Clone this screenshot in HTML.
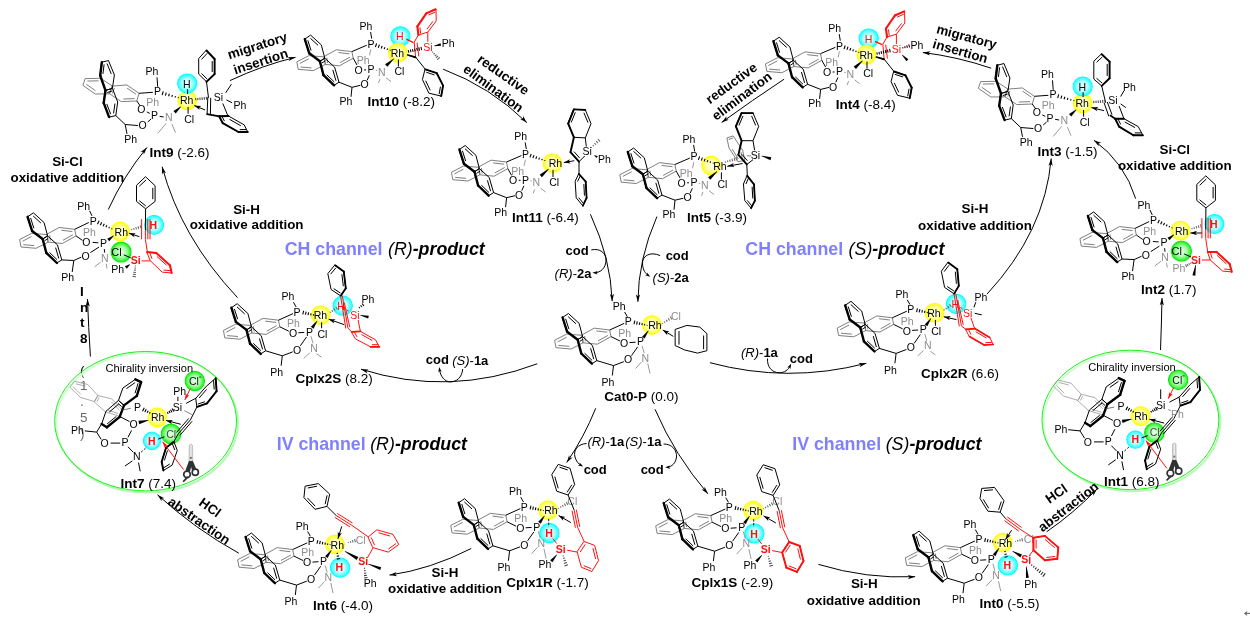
<!DOCTYPE html>
<html><head><meta charset="utf-8"><style>
html,body{margin:0;padding:0;background:#fff;}
svg{display:block;font-family:"Liberation Sans",sans-serif;will-change:transform;}
</style></head><body>
<svg width="1250" height="631" viewBox="0 0 1250 631" fill="none">
<defs>
<radialGradient id="gY" cx="0.5" cy="0.5" r="0.5"><stop offset="0" stop-color="#fffff4"/><stop offset="0.5" stop-color="#ffffb0"/><stop offset="0.82" stop-color="#ffff40"/><stop offset="0.94" stop-color="#ffff08"/><stop offset="1" stop-color="#fafa00" stop-opacity="0.5"/></radialGradient>
<radialGradient id="gC" cx="0.5" cy="0.5" r="0.5"><stop offset="0" stop-color="#f6ffff"/><stop offset="0.5" stop-color="#b0ffff"/><stop offset="0.82" stop-color="#40ffff"/><stop offset="0.94" stop-color="#08ffff"/><stop offset="1" stop-color="#00f6f6" stop-opacity="0.5"/></radialGradient>
<radialGradient id="gG" cx="0.5" cy="0.5" r="0.5"><stop offset="0" stop-color="#f0fff0"/><stop offset="0.5" stop-color="#a8ffa8"/><stop offset="0.82" stop-color="#40f440"/><stop offset="0.94" stop-color="#08e808"/><stop offset="1" stop-color="#00de00" stop-opacity="0.5"/></radialGradient>
</defs>
<text x="80" y="437.51" font-size="13.5" font-weight="normal" fill="#000">)</text>
<text x="80" y="421.76" font-size="13.5" font-weight="normal" fill="#000">5</text>
<text x="80" y="406.01" font-size="13.5" font-weight="normal" fill="#000">.</text>
<text x="80" y="390.26" font-size="13.5" font-weight="normal" fill="#000">1</text>
<text x="80" y="374.51" font-size="13.5" font-weight="normal" fill="#000">(</text>
<text x="80" y="358.76" font-size="13.5" font-weight="normal" fill="#000"> </text>
<text x="80" y="343.01" font-size="13.5" font-weight="bold" fill="#000">8</text>
<text x="80" y="327.26" font-size="13.5" font-weight="bold" fill="#000">t</text>
<text x="80" y="311.51" font-size="13.5" font-weight="bold" fill="#000">n</text>
<text x="80" y="295.76" font-size="13.5" font-weight="bold" fill="#000">I</text>
<ellipse cx="147.1" cy="422.8" rx="90.9" ry="69.7" stroke="#b8f6b8" stroke-width="2.0" fill="none"/>
<ellipse cx="145.6" cy="421.2" rx="90.9" ry="69.7" stroke="#18f018" stroke-width="1.0" fill="#fff" fill-opacity="0.4"/>
<ellipse cx="1131.9" cy="421.5" rx="88.4" ry="69.7" stroke="#b8f6b8" stroke-width="2.0" fill="none"/>
<ellipse cx="1130.4" cy="419.9" rx="88.4" ry="69.7" stroke="#18f018" stroke-width="1.0" fill="#fff" fill-opacity="0.4"/>
<circle cx="652" cy="325" r="10.049999999999999" fill="url(#gY)"/>
<path d="M554.7 340.6L556 347.7L571.1 349L583.1 342.8L582 335.3L567.1 334.1Z" stroke="#686868" stroke-width="0.85" fill="none" stroke-linejoin="round" stroke-linecap="round"/>
<path d="M558.33 345.39L569.2 346.33" stroke="#686868" stroke-width="0.85"/>
<path d="M566.52 337.22L557.6 341.9" stroke="#686868" stroke-width="0.85"/>
<path d="M582 335.3L583.1 342.8L597.3 344.2L611 336.6L609.7 330L594.6 328.2Z" stroke="#686868" stroke-width="0.85" fill="none" stroke-linejoin="round" stroke-linecap="round"/>
<path d="M584.63 335.99L585.42 341.39" stroke="#686868" stroke-width="0.85"/>
<path d="M598.01 340.95L607.87 335.48" stroke="#686868" stroke-width="0.85"/>
<path d="M607.29 332.23L596.42 330.93" stroke="#686868" stroke-width="0.85"/>
<path d="M562.6 317.5L568.4 313.5L579.1 323.3L582.6 336.6L577.7 339.7L567.1 331.7Z" stroke="#000" stroke-width="1.0" fill="none" stroke-linejoin="round" stroke-linecap="round"/>
<path d="M568.21 316.72L575.91 323.77" stroke="#000" stroke-width="1.0"/>
<path d="M568.85 328.96L565.61 318.73" stroke="#000" stroke-width="1.0"/>
<path d="M577.7 339.7L567.1 331.7" stroke="#000" stroke-width="2.4" fill="none" stroke-linejoin="round" stroke-linecap="round"/>
<path d="M567.1 331.7L562.6 317.5" stroke="#000" stroke-width="2.4" fill="none" stroke-linejoin="round" stroke-linecap="round"/>
<path d="M577.7 339.7L582.6 336.6L592.4 345.5L596.8 360.6L591.9 363.7L581.3 353.5Z" stroke="#000" stroke-width="1.0" fill="none" stroke-linejoin="round" stroke-linecap="round"/>
<path d="M579.72 341.38L583.25 339.15" stroke="#000" stroke-width="1.0"/>
<path d="M590.62 348.31L593.78 359.19" stroke="#000" stroke-width="1.0"/>
<path d="M592.15 360.47L584.52 353.13" stroke="#000" stroke-width="1.0"/>
<path d="M591.9 363.7L581.3 353.5" stroke="#000" stroke-width="2.4" fill="none" stroke-linejoin="round" stroke-linecap="round"/>
<path d="M581.3 353.5L577.7 339.7" stroke="#000" stroke-width="2.4" fill="none" stroke-linejoin="round" stroke-linecap="round"/>
<path d="M609.7 330L624.2 323.4" stroke="#000" stroke-width="1.0"/>
<text x="628.2" y="325.48" font-size="10.5" fill="#000" text-anchor="middle" >P</text>
<text x="619.2" y="310.28" font-size="10.5" fill="#000" text-anchor="middle" >Ph</text>
<path d="M624.6 312L627.4 316.8" stroke="#000" stroke-width="1.0"/>
<path d="M647.3 324.86L647.1 325.74" stroke="#000" stroke-width="1.1"/>
<path d="M644.8 324.0L644.48 325.44" stroke="#000" stroke-width="1.1"/>
<path d="M642.31 323.14L641.85 325.14" stroke="#000" stroke-width="1.1"/>
<path d="M639.81 322.27L639.23 324.85" stroke="#000" stroke-width="1.1"/>
<path d="M637.32 321.41L636.6 324.55" stroke="#000" stroke-width="1.1"/>
<path d="M634.82 320.55L633.98 324.25" stroke="#000" stroke-width="1.1"/>
<text x="624.6" y="336.88" font-size="10.5" fill="#8c8c8c" text-anchor="middle" >Ph</text>
<path d="M611 336.6L620 341" stroke="#000" stroke-width="1.0"/>
<text x="624.2" y="346.88" font-size="10.5" fill="#000" text-anchor="middle" >O</text>
<path d="M629.5 342.6L635.5 342.2" stroke="#000" stroke-width="1.0"/>
<text x="640.6" y="345.48" font-size="10.5" fill="#000" text-anchor="middle" >P</text>
<path d="M648.2 330.45L642.1 336.67L644.7 338.53L648.6 330.75Z" fill="#000" stroke="none"/>
<text x="628.2" y="363.48" font-size="10.5" fill="#000" text-anchor="middle" >O</text>
<path d="M631.5 355.6L637.7 346.8" stroke="#000" stroke-width="1.0"/>
<path d="M642.2 346L644.2 353.2" stroke="#9a9a9a" stroke-width="1.0"/>
<text x="645.3" y="361.58" font-size="10.5" fill="#8c8c8c" text-anchor="middle" >N</text>
<path d="M641.5 362L635.5 368.5" stroke="#9a9a9a" stroke-width="1.0"/>
<path d="M647.8 363.5L650.0 373.5" stroke="#9a9a9a" stroke-width="1.0"/>
<path d="M596.8 360.6L613.5 365.6L623.5 361.8" stroke="#000" stroke-width="1.0" fill="none" stroke-linejoin="round" stroke-linecap="round"/>
<path d="M613.5 365.6L612.3 375.5" stroke="#000" stroke-width="1.0"/>
<text x="607.8" y="385.78" font-size="10.5" fill="#000" text-anchor="middle" >Ph</text>
<text x="655.0" y="329.18" font-size="10.5" fill="#000" text-anchor="middle" >Rh</text>
<path d="M662.72 323.84L662.28 323.16" stroke="#686868" stroke-width="1.05"/>
<path d="M665.02 322.73L664.23 321.52" stroke="#686868" stroke-width="1.05"/>
<path d="M667.32 321.63L666.18 319.87" stroke="#686868" stroke-width="1.05"/>
<path d="M669.62 320.53L668.13 318.22" stroke="#686868" stroke-width="1.05"/>
<path d="M671.92 319.43L670.08 316.57" stroke="#686868" stroke-width="1.05"/>
<text x="676" y="320.18" font-size="10.5" fill="#8c8c8c" text-anchor="middle" >Cl</text>
<path d="M675.5 329.3L686.9 325.4L699.8 327.1L706.9 333.6L706.9 350.7L697.6 353.1L684.8 350L675.5 345.7Z" stroke="#000" stroke-width="1.0" fill="none" stroke-linejoin="round" stroke-linecap="round"/>
<path d="M679.0 331.0L679.0 344.6" stroke="#000" stroke-width="1.0"/>
<path d="M703.6 335.5L703.6 349.2" stroke="#000" stroke-width="1.0"/>
<path d="M673.4 336.4L662.7 330.0" stroke="#000" stroke-width="1.0"/>
<path d="M662.70 330.00L669.47 331.54L666.95 332.54L667.26 335.23Z" fill="#000"/>
<circle cx="187.2" cy="100.3" r="10.049999999999999" fill="url(#gY)"/>
<path d="M83.0 84.95L85.2 78.6L100.7 78.3L112.4 86.1L109.6 93.8L95.75 94.0Z" stroke="#686868" stroke-width="0.85" fill="none" stroke-linejoin="round" stroke-linecap="round"/>
<path d="M87.42 81.06L98.58 80.84" stroke="#686868" stroke-width="0.85"/>
<path d="M95.41 90.69L86.23 84.18" stroke="#686868" stroke-width="0.85"/>
<path d="M112.4 86.1L126.8 84.95L139.0 93.3L136.8 101.0L121.3 101.6L109.6 93.8Z" stroke="#686868" stroke-width="0.85" fill="none" stroke-linejoin="round" stroke-linecap="round"/>
<path d="M127.1 88.18L135.88 94.19" stroke="#686868" stroke-width="0.85"/>
<path d="M134.53 98.59L123.37 99.02" stroke="#686868" stroke-width="0.85"/>
<path d="M112.34 93.58L114.36 88.03" stroke="#686868" stroke-width="0.85"/>
<path d="M101.85 62.2L108.5 60.55L114.4 75.0L112.4 88.3L105.5 90.5L100.2 75.5Z" stroke="#000" stroke-width="1.0" fill="none" stroke-linejoin="round" stroke-linecap="round"/>
<path d="M107.01 63.52L111.26 73.92" stroke="#000" stroke-width="1.0"/>
<path d="M102.91 73.95L104.1 64.37" stroke="#000" stroke-width="1.0"/>
<path d="M105.5 90.5L100.2 75.5" stroke="#000" stroke-width="2.4" fill="none" stroke-linejoin="round" stroke-linecap="round"/>
<path d="M100.2 75.5L101.85 62.2" stroke="#000" stroke-width="2.4" fill="none" stroke-linejoin="round" stroke-linecap="round"/>
<path d="M105.5 90.5L112.4 88.3L117.7 102.0L115.8 115.6L109.1 117.1L103.7 102.9Z" stroke="#000" stroke-width="1.0" fill="none" stroke-linejoin="round" stroke-linecap="round"/>
<path d="M107.23 92.57L112.19 90.99" stroke="#000" stroke-width="1.0"/>
<path d="M114.96 103.56L113.59 113.35" stroke="#000" stroke-width="1.0"/>
<path d="M110.68 114.22L106.79 104.0" stroke="#000" stroke-width="1.0"/>
<path d="M109.1 117.1L103.7 102.9" stroke="#000" stroke-width="2.4" fill="none" stroke-linejoin="round" stroke-linecap="round"/>
<path d="M103.7 102.9L105.5 90.5" stroke="#000" stroke-width="2.4" fill="none" stroke-linejoin="round" stroke-linecap="round"/>
<path d="M139.0 93.3L152.9 92.3" stroke="#000" stroke-width="1.0"/>
<text x="157.4" y="95.48" font-size="10.5" fill="#000" text-anchor="middle" >P</text>
<text x="152.0" y="75.38" font-size="10.5" fill="#000" text-anchor="middle" >Ph</text>
<path d="M157.0 77.3L157.7 86.8" stroke="#000" stroke-width="1.0"/>
<path d="M178.52 97.27L178.28 98.13" stroke="#000" stroke-width="1.1"/>
<path d="M175.46 96.09L175.06 97.51" stroke="#000" stroke-width="1.1"/>
<path d="M172.4 94.91L171.84 96.89" stroke="#000" stroke-width="1.1"/>
<path d="M169.34 93.73L168.62 96.27" stroke="#000" stroke-width="1.1"/>
<path d="M166.28 92.55L165.4 95.65" stroke="#000" stroke-width="1.1"/>
<path d="M163.22 91.37L162.18 95.03" stroke="#000" stroke-width="1.1"/>
<text x="152.7" y="106.48" font-size="10.5" fill="#8c8c8c" text-anchor="middle" >Ph</text>
<path d="M136.8 101.0L140.2 105.9" stroke="#000" stroke-width="1.0"/>
<text x="141.3" y="113.18" font-size="10.5" fill="#000" text-anchor="middle" >O</text>
<path d="M146.8 111.9L149.8 113.4" stroke="#000" stroke-width="1.0"/>
<text x="154.5" y="118.88" font-size="10.5" fill="#000" text-anchor="middle" >P</text>
<path d="M159.6 116.3L163.7 117.0" stroke="#000" stroke-width="1.0"/>
<text x="168.8" y="121.18" font-size="10.5" fill="#8c8c8c" text-anchor="middle" >N</text>
<path d="M166.2 123.4L157.7 133.4" stroke="#9a9a9a" stroke-width="1.0"/>
<path d="M171.9 124.1L175.5 132.7" stroke="#9a9a9a" stroke-width="1.0"/>
<path d="M180.53 106.61L173.47 110.93L175.73 113.47L180.87 106.99Z" fill="#000" stroke="none"/>
<path d="M188.1 107.0L188.1 113.7" stroke="#000" stroke-width="1.0"/>
<text x="189.1" y="122.58" font-size="10.5" fill="#000" text-anchor="middle" >Cl</text>
<text x="142.7" y="129.28" font-size="10.5" fill="#000" text-anchor="middle" >O</text>
<path d="M147.7 122.0L151.1 119.0" stroke="#000" stroke-width="1.0"/>
<path d="M115.8 115.6L125.2 124.5L137.5 125.5" stroke="#000" stroke-width="1.0" fill="none" stroke-linejoin="round" stroke-linecap="round"/>
<path d="M125.2 124.5L127.0 133.9" stroke="#000" stroke-width="1.0"/>
<text x="130.6" y="142.88" font-size="10.5" fill="#000" text-anchor="middle" >Ph</text>
<circle cx="187.2" cy="83.5" r="10.25" fill="url(#gC)"/>
<text x="186.9" y="87.58" font-size="10.5" fill="#000" text-anchor="middle" >H</text>
<path d="M187.6 89.2L187.6 94.0" stroke="#000" stroke-width="1.0"/>
<text x="186.6" y="104.38" font-size="10.5" fill="#000" text-anchor="middle" >Rh</text>
<path d="M206.5 50.5L214.6 59.0L214.6 74.1L206.5 81.8L198.7 74.1L198.7 59.0Z" stroke="#000" stroke-width="1.0" fill="none" stroke-linejoin="round" stroke-linecap="round"/>
<path d="M212.2 61.11L212.2 71.99" stroke="#000" stroke-width="1.0"/>
<path d="M207.09 79.01L201.48 73.47" stroke="#000" stroke-width="1.0"/>
<path d="M201.56 59.43L207.18 53.31" stroke="#000" stroke-width="1.0"/>
<path d="M206.5 50.5L214.6 59.0" stroke="#000" stroke-width="1.9" fill="none" stroke-linejoin="round" stroke-linecap="round"/>
<path d="M214.6 59.0L214.6 74.1" stroke="#000" stroke-width="1.9" fill="none" stroke-linejoin="round" stroke-linecap="round"/>
<path d="M214.6 74.1L206.5 81.8" stroke="#000" stroke-width="1.9" fill="none" stroke-linejoin="round" stroke-linecap="round"/>
<path d="M206.5 81.8L208.5 97.8" stroke="#000" stroke-width="1.0"/>
<path d="M207.8 97.1L207.1 114.2" stroke="#000" stroke-width="1.0"/>
<path d="M210.7 97.8L210.4 114.2" stroke="#000" stroke-width="1.0"/>
<path d="M207.1 114.2L219.2 116.3" stroke="#000" stroke-width="1.7" fill="none" stroke-linejoin="round" stroke-linecap="round"/>
<path d="M195.8 100.3L195.6 98.1" stroke="#444" stroke-width="1.05"/>
<path d="M197.95 100.17L197.73 97.83" stroke="#444" stroke-width="1.05"/>
<path d="M200.1 100.05L199.86 97.55" stroke="#444" stroke-width="1.05"/>
<path d="M202.24 99.93L202.0 97.27" stroke="#444" stroke-width="1.05"/>
<path d="M204.39 99.81L204.13 96.99" stroke="#444" stroke-width="1.05"/>
<path d="M206.54 99.69L206.26 96.71" stroke="#444" stroke-width="1.05"/>
<path d="M205.0 109.9L194.3 105.6" stroke="#000" stroke-width="1.0"/>
<path d="M194.30 105.60L201.23 106.07L198.89 107.45L199.62 110.06Z" fill="#000"/>
<text x="218.5" y="101.28" font-size="10.5" fill="#000" text-anchor="middle" >Si</text>
<path d="M225.7 92.8L231.4 84.2" stroke="#000" stroke-width="1.0"/>
<path d="M226.4 99.9L232.1 102.8" stroke="#000" stroke-width="1.0"/>
<text x="239.9" y="109.38" font-size="10.5" fill="#000" text-anchor="middle" >Ph</text>
<path d="M222.8 103.5L227.8 115.6" stroke="#000" stroke-width="1.0"/>
<path d="M219.2 116.3L228.5 116.0L244.2 124.9L247.8 132.0L238.5 132.0L222.8 123.2Z" stroke="#000" stroke-width="1.0" fill="none" stroke-linejoin="round" stroke-linecap="round"/>
<path d="M229.51 119.33L240.82 125.74" stroke="#000" stroke-width="1.0"/>
<path d="M246.5 129.6L239.8 129.6" stroke="#000" stroke-width="1.0"/>
<path d="M224.42 121.12L221.83 116.16" stroke="#000" stroke-width="1.0"/>
<path d="M247.8 132.0L238.5 132.0" stroke="#000" stroke-width="1.9" fill="none" stroke-linejoin="round" stroke-linecap="round"/>
<path d="M238.5 132.0L222.8 123.2" stroke="#000" stroke-width="1.9" fill="none" stroke-linejoin="round" stroke-linecap="round"/>
<path d="M222.8 123.2L219.2 116.3" stroke="#000" stroke-width="1.9" fill="none" stroke-linejoin="round" stroke-linecap="round"/>
<path d="M219.2 116.3L228.5 116.0" stroke="#000" stroke-width="1.9" fill="none" stroke-linejoin="round" stroke-linecap="round"/>
<circle cx="1082.7" cy="103.3" r="10.049999999999999" fill="url(#gY)"/>
<path d="M978.5 87.95L980.7 81.6L996.2 81.3L1007.9 89.1L1005.1 96.8L991.25 97.0Z" stroke="#686868" stroke-width="0.85" fill="none" stroke-linejoin="round" stroke-linecap="round"/>
<path d="M982.92 84.06L994.08 83.84" stroke="#686868" stroke-width="0.85"/>
<path d="M990.91 93.69L981.73 87.18" stroke="#686868" stroke-width="0.85"/>
<path d="M1007.9 89.1L1022.3 87.95L1034.5 96.3L1032.3 104.0L1016.8 104.6L1005.1 96.8Z" stroke="#686868" stroke-width="0.85" fill="none" stroke-linejoin="round" stroke-linecap="round"/>
<path d="M1022.6 91.18L1031.38 97.19" stroke="#686868" stroke-width="0.85"/>
<path d="M1030.03 101.59L1018.87 102.02" stroke="#686868" stroke-width="0.85"/>
<path d="M1007.84 96.58L1009.86 91.03" stroke="#686868" stroke-width="0.85"/>
<path d="M997.35 65.2L1004.0 63.55L1009.9 78.0L1007.9 91.3L1001.0 93.5L995.7 78.5Z" stroke="#000" stroke-width="1.0" fill="none" stroke-linejoin="round" stroke-linecap="round"/>
<path d="M1002.51 66.52L1006.76 76.92" stroke="#000" stroke-width="1.0"/>
<path d="M998.41 76.95L999.6 67.37" stroke="#000" stroke-width="1.0"/>
<path d="M1001.0 93.5L995.7 78.5" stroke="#000" stroke-width="2.4" fill="none" stroke-linejoin="round" stroke-linecap="round"/>
<path d="M995.7 78.5L997.35 65.2" stroke="#000" stroke-width="2.4" fill="none" stroke-linejoin="round" stroke-linecap="round"/>
<path d="M1001.0 93.5L1007.9 91.3L1013.2 105.0L1011.3 118.6L1004.6 120.1L999.2 105.9Z" stroke="#000" stroke-width="1.0" fill="none" stroke-linejoin="round" stroke-linecap="round"/>
<path d="M1002.73 95.57L1007.69 93.99" stroke="#000" stroke-width="1.0"/>
<path d="M1010.46 106.56L1009.09 116.35" stroke="#000" stroke-width="1.0"/>
<path d="M1006.18 117.22L1002.29 107.0" stroke="#000" stroke-width="1.0"/>
<path d="M1004.6 120.1L999.2 105.9" stroke="#000" stroke-width="2.4" fill="none" stroke-linejoin="round" stroke-linecap="round"/>
<path d="M999.2 105.9L1001.0 93.5" stroke="#000" stroke-width="2.4" fill="none" stroke-linejoin="round" stroke-linecap="round"/>
<path d="M1034.5 96.3L1048.4 95.3" stroke="#000" stroke-width="1.0"/>
<text x="1052.9" y="98.48" font-size="10.5" fill="#000" text-anchor="middle" >P</text>
<text x="1047.5" y="78.38" font-size="10.5" fill="#000" text-anchor="middle" >Ph</text>
<path d="M1052.5 80.3L1053.2 89.8" stroke="#000" stroke-width="1.0"/>
<path d="M1074.02 100.27L1073.78 101.13" stroke="#000" stroke-width="1.1"/>
<path d="M1070.96 99.09L1070.56 100.51" stroke="#000" stroke-width="1.1"/>
<path d="M1067.9 97.91L1067.34 99.89" stroke="#000" stroke-width="1.1"/>
<path d="M1064.84 96.73L1064.12 99.27" stroke="#000" stroke-width="1.1"/>
<path d="M1061.78 95.55L1060.9 98.65" stroke="#000" stroke-width="1.1"/>
<path d="M1058.72 94.37L1057.68 98.03" stroke="#000" stroke-width="1.1"/>
<text x="1048.2" y="109.48" font-size="10.5" fill="#8c8c8c" text-anchor="middle" >Ph</text>
<path d="M1032.3 104.0L1035.7 108.9" stroke="#000" stroke-width="1.0"/>
<text x="1036.8" y="116.18" font-size="10.5" fill="#000" text-anchor="middle" >O</text>
<path d="M1042.3 114.9L1045.3 116.4" stroke="#000" stroke-width="1.0"/>
<text x="1050.0" y="121.88" font-size="10.5" fill="#000" text-anchor="middle" >P</text>
<path d="M1055.1 119.3L1059.2 120.0" stroke="#000" stroke-width="1.0"/>
<text x="1064.3" y="124.18" font-size="10.5" fill="#8c8c8c" text-anchor="middle" >N</text>
<path d="M1061.7 126.4L1053.2 136.4" stroke="#9a9a9a" stroke-width="1.0"/>
<path d="M1067.4 127.1L1071.0 135.7" stroke="#9a9a9a" stroke-width="1.0"/>
<path d="M1076.03 109.61L1068.97 113.93L1071.23 116.47L1076.37 109.99Z" fill="#000" stroke="none"/>
<path d="M1083.6 110.0L1083.6 116.7" stroke="#000" stroke-width="1.0"/>
<text x="1084.6" y="125.58" font-size="10.5" fill="#000" text-anchor="middle" >Cl</text>
<text x="1038.2" y="132.28" font-size="10.5" fill="#000" text-anchor="middle" >O</text>
<path d="M1043.2 125.0L1046.6 122.0" stroke="#000" stroke-width="1.0"/>
<path d="M1011.3 118.6L1020.7 127.5L1033.0 128.5" stroke="#000" stroke-width="1.0" fill="none" stroke-linejoin="round" stroke-linecap="round"/>
<path d="M1020.7 127.5L1022.5 136.9" stroke="#000" stroke-width="1.0"/>
<text x="1026.1" y="145.88" font-size="10.5" fill="#000" text-anchor="middle" >Ph</text>
<circle cx="1082.7" cy="86.5" r="10.25" fill="url(#gC)"/>
<text x="1082.4" y="90.58" font-size="10.5" fill="#000" text-anchor="middle" >H</text>
<path d="M1083.1 92.2L1083.1 97.0" stroke="#000" stroke-width="1.0"/>
<text x="1082.1" y="107.38" font-size="10.5" fill="#000" text-anchor="middle" >Rh</text>
<path d="M1101.7 54.2L1109.6 61.6L1109.6 78.3L1101.7 85.9L1093.8 79.1L1093.8 61.6Z" stroke="#000" stroke-width="1.0" fill="none" stroke-linejoin="round" stroke-linecap="round"/>
<path d="M1107.2 63.94L1107.2 75.96" stroke="#000" stroke-width="1.0"/>
<path d="M1102.16 83.13L1096.47 78.23" stroke="#000" stroke-width="1.0"/>
<path d="M1096.55 62.32L1102.23 56.99" stroke="#000" stroke-width="1.0"/>
<path d="M1101.7 54.2L1109.6 61.6" stroke="#000" stroke-width="1.9" fill="none" stroke-linejoin="round" stroke-linecap="round"/>
<path d="M1109.6 61.6L1109.6 78.3" stroke="#000" stroke-width="1.9" fill="none" stroke-linejoin="round" stroke-linecap="round"/>
<path d="M1109.6 78.3L1101.7 85.9" stroke="#000" stroke-width="1.9" fill="none" stroke-linejoin="round" stroke-linecap="round"/>
<path d="M1101.7 85.9L1105.7 102.8" stroke="#000" stroke-width="1.0"/>
<path d="M1104.1 102.8L1108.8 116.3" stroke="#000" stroke-width="1.0"/>
<path d="M1107.3 102.0L1112.0 114.7" stroke="#000" stroke-width="1.0"/>
<path d="M1110.4 115.5L1115.2 118.7" stroke="#000" stroke-width="1.7" fill="none" stroke-linejoin="round" stroke-linecap="round"/>
<path d="M1093.88 103.1L1093.72 100.9" stroke="#444" stroke-width="1.05"/>
<path d="M1096.1 103.02L1095.94 100.66" stroke="#444" stroke-width="1.05"/>
<path d="M1098.33 102.94L1098.15 100.42" stroke="#444" stroke-width="1.05"/>
<path d="M1100.56 102.86L1100.36 100.18" stroke="#444" stroke-width="1.05"/>
<path d="M1102.78 102.78L1102.58 99.94" stroke="#444" stroke-width="1.05"/>
<path d="M1105.01 102.7L1104.79 99.7" stroke="#444" stroke-width="1.05"/>
<path d="M1104.1 110.7L1091.4 107.6" stroke="#000" stroke-width="1.0"/>
<path d="M1091.40 107.60L1098.32 107.08L1096.21 108.77L1097.30 111.25Z" fill="#000"/>
<text x="1112.8" y="104.18" font-size="10.5" fill="#000" text-anchor="middle" >Si</text>
<path d="M1120.7 96.5L1123.9 90.9" stroke="#000" stroke-width="1.0"/>
<text x="1129.4" y="90.78" font-size="10.5" fill="#000" text-anchor="middle" >Ph</text>
<path d="M1120.7 103.9L1125.8 107.6" stroke="#000" stroke-width="1.0"/>
<path d="M1119.1 106.0L1123.9 118.7" stroke="#000" stroke-width="1.0"/>
<path d="M1115.2 118.7L1123.9 118.7L1138.2 126.6L1142.9 135.3L1133.4 135.3L1119.1 126.6Z" stroke="#000" stroke-width="1.0" fill="none" stroke-linejoin="round" stroke-linecap="round"/>
<path d="M1124.74 121.91L1135.04 127.59" stroke="#000" stroke-width="1.0"/>
<path d="M1141.57 132.9L1134.73 132.9" stroke="#000" stroke-width="1.0"/>
<path d="M1120.71 124.43L1117.9 118.74" stroke="#000" stroke-width="1.0"/>
<path d="M1142.9 135.3L1133.4 135.3" stroke="#000" stroke-width="1.9" fill="none" stroke-linejoin="round" stroke-linecap="round"/>
<path d="M1133.4 135.3L1119.1 126.6" stroke="#000" stroke-width="1.9" fill="none" stroke-linejoin="round" stroke-linecap="round"/>
<path d="M1119.1 126.6L1115.2 118.7" stroke="#000" stroke-width="1.9" fill="none" stroke-linejoin="round" stroke-linecap="round"/>
<path d="M1115.2 118.7L1123.9 118.7" stroke="#000" stroke-width="1.9" fill="none" stroke-linejoin="round" stroke-linecap="round"/>
<circle cx="400.4" cy="36.4" r="10.35" fill="url(#gC)"/>
<circle cx="397.8" cy="52.8" r="10.049999999999999" fill="url(#gY)"/>
<path d="M296.9 62.2L298.2 69.3L313.3 70.6L325.3 64.4L324.2 56.9L309.3 55.7Z" stroke="#686868" stroke-width="0.85" fill="none" stroke-linejoin="round" stroke-linecap="round"/>
<path d="M300.53 66.99L311.4 67.93" stroke="#686868" stroke-width="0.85"/>
<path d="M308.72 58.82L299.8 63.5" stroke="#686868" stroke-width="0.85"/>
<path d="M324.2 56.9L325.3 64.4L339.5 65.8L353.2 58.2L351.9 51.6L336.8 49.8Z" stroke="#686868" stroke-width="0.85" fill="none" stroke-linejoin="round" stroke-linecap="round"/>
<path d="M326.83 57.59L327.62 62.99" stroke="#686868" stroke-width="0.85"/>
<path d="M340.21 62.55L350.07 57.08" stroke="#686868" stroke-width="0.85"/>
<path d="M349.49 53.83L338.62 52.53" stroke="#686868" stroke-width="0.85"/>
<path d="M304.8 39.1L310.6 35.1L321.3 44.9L324.8 58.2L319.9 61.3L309.3 53.3Z" stroke="#000" stroke-width="1.0" fill="none" stroke-linejoin="round" stroke-linecap="round"/>
<path d="M310.41 38.32L318.11 45.37" stroke="#000" stroke-width="1.0"/>
<path d="M311.05 50.56L307.81 40.33" stroke="#000" stroke-width="1.0"/>
<path d="M319.9 61.3L309.3 53.3" stroke="#000" stroke-width="2.4" fill="none" stroke-linejoin="round" stroke-linecap="round"/>
<path d="M309.3 53.3L304.8 39.1" stroke="#000" stroke-width="2.4" fill="none" stroke-linejoin="round" stroke-linecap="round"/>
<path d="M319.9 61.3L324.8 58.2L334.6 67.1L339.0 82.2L334.1 85.3L323.5 75.1Z" stroke="#000" stroke-width="1.0" fill="none" stroke-linejoin="round" stroke-linecap="round"/>
<path d="M321.92 62.98L325.45 60.75" stroke="#000" stroke-width="1.0"/>
<path d="M332.82 69.91L335.98 80.79" stroke="#000" stroke-width="1.0"/>
<path d="M334.35 82.07L326.72 74.73" stroke="#000" stroke-width="1.0"/>
<path d="M334.1 85.3L323.5 75.1" stroke="#000" stroke-width="2.4" fill="none" stroke-linejoin="round" stroke-linecap="round"/>
<path d="M323.5 75.1L319.9 61.3" stroke="#000" stroke-width="2.4" fill="none" stroke-linejoin="round" stroke-linecap="round"/>
<path d="M351.9 51.6L366.8 45.2" stroke="#000" stroke-width="1.0"/>
<text x="371.0" y="47.58" font-size="10.5" fill="#000" text-anchor="middle" >P</text>
<text x="366.0" y="29.78" font-size="10.5" fill="#000" text-anchor="middle" >Ph</text>
<path d="M370.6 32.0L371.7 38.6" stroke="#000" stroke-width="1.0"/>
<path d="M390.35 49.78L390.05 50.62" stroke="#000" stroke-width="1.1"/>
<path d="M387.61 48.5L387.11 49.9" stroke="#000" stroke-width="1.1"/>
<path d="M384.86 47.23L384.18 49.17" stroke="#000" stroke-width="1.1"/>
<path d="M382.12 45.95L381.24 48.45" stroke="#000" stroke-width="1.1"/>
<path d="M379.37 44.68L378.31 47.72" stroke="#000" stroke-width="1.1"/>
<path d="M376.63 43.41L375.37 46.99" stroke="#000" stroke-width="1.1"/>
<path d="M370.8 49.3L369.5 55.4" stroke="#9a9a9a" stroke-width="1.0"/>
<text x="363.1" y="64.28" font-size="10.5" fill="#8c8c8c" text-anchor="middle" >Ph</text>
<path d="M353.2 58.2L357.0 65.0" stroke="#000" stroke-width="1.0"/>
<text x="358.6" y="73.68" font-size="10.5" fill="#000" text-anchor="middle" >O</text>
<path d="M364.1 69.9L366.0 69.9" stroke="#000" stroke-width="1.0"/>
<text x="371.0" y="73.28" font-size="10.5" fill="#000" text-anchor="middle" >P</text>
<path d="M375.8 70.4L377.2 70.6" stroke="#9a9a9a" stroke-width="1.0"/>
<text x="381.7" y="75.68" font-size="10.5" fill="#8c8c8c" text-anchor="middle" >N</text>
<path d="M380.0 79.0L378.5 83.0" stroke="#9a9a9a" stroke-width="1.0"/>
<path d="M386.0 77.8L391.0 81.6" stroke="#9a9a9a" stroke-width="1.0"/>
<path d="M393.83 58.41L385.06 64.33L387.34 66.87L394.17 58.79Z" fill="#000" stroke="none"/>
<path d="M398.4 59.5L398.4 66.6" stroke="#000" stroke-width="1.0"/>
<text x="399.5" y="75.38" font-size="10.5" fill="#000" text-anchor="middle" >Cl</text>
<text x="364.6" y="88.48" font-size="10.5" fill="#000" text-anchor="middle" >O</text>
<path d="M369.3 75.4L367.2 80.2" stroke="#000" stroke-width="1.0"/>
<path d="M339.0 82.2L352.0 87.3L360.0 85.4" stroke="#000" stroke-width="1.0" fill="none" stroke-linejoin="round" stroke-linecap="round"/>
<path d="M352.0 87.3L351.0 96.8" stroke="#000" stroke-width="1.0"/>
<text x="346.0" y="105.38" font-size="10.5" fill="#000" text-anchor="middle" >Ph</text>
<text x="397.5" y="56.88" font-size="10.5" fill="#000" text-anchor="middle" >Rh</text>
<path d="M435.6 9.3L426.3 13.4L417.4 26.4L418.4 35.0L427.8 32.1L436.0 21.2Z" stroke="#ff1010" stroke-width="1.0" fill="none" stroke-linejoin="round" stroke-linecap="round"/>
<path d="M435.27 12.07L428.57 15.02" stroke="#ff1010" stroke-width="1.0"/>
<path d="M419.92 27.33L420.64 33.52" stroke="#ff1010" stroke-width="1.0"/>
<path d="M427.03 29.13L432.93 21.28" stroke="#ff1010" stroke-width="1.0"/>
<path d="M435.6 9.3L426.3 13.4" stroke="#ff1010" stroke-width="2.1" fill="none" stroke-linejoin="round" stroke-linecap="round"/>
<path d="M426.3 13.4L417.4 26.4" stroke="#ff1010" stroke-width="2.1" fill="none" stroke-linejoin="round" stroke-linecap="round"/>
<path d="M417.4 26.4L418.4 35.0" stroke="#ff1010" stroke-width="2.1" fill="none" stroke-linejoin="round" stroke-linecap="round"/>
<path d="M418.4 35.0L414.2 42.1" stroke="#ff1010" stroke-width="1.0"/>
<path d="M406.4 39.2L413.4 42.6" stroke="#ff1010" stroke-width="1.3"/>
<path d="M414.2 42.1L415.6 57.1" stroke="#ff1010" stroke-width="1.0"/>
<path d="M417.1 42.6L418.8 56.4" stroke="#ff1010" stroke-width="1.0"/>
<path d="M427.8 32.1L427.8 41.9" stroke="#ff1010" stroke-width="1.0"/>
<text x="427.8" y="50.88" font-size="10.5" fill="#ff1010" text-anchor="middle" >Si</text>
<path d="M408.77 52.57L408.23 50.23" stroke="#000" stroke-width="1.05"/>
<path d="M410.92 52.17L410.35 49.67" stroke="#000" stroke-width="1.05"/>
<path d="M413.07 51.77L412.46 49.1" stroke="#000" stroke-width="1.05"/>
<path d="M415.22 51.36L414.58 48.54" stroke="#000" stroke-width="1.05"/>
<path d="M417.37 50.96L416.69 47.97" stroke="#000" stroke-width="1.05"/>
<path d="M419.52 50.56L418.81 47.41" stroke="#000" stroke-width="1.05"/>
<path d="M421.68 50.16L420.92 46.84" stroke="#000" stroke-width="1.05"/>
<path d="M434.26 46.24L441.09 45.77L440.51 43.23L434.14 45.76Z" fill="#000" stroke="none"/>
<path d="M432.33 52.44L433.07 51.76" stroke="#555" stroke-width="1.05"/>
<path d="M433.54 54.25L434.76 53.15" stroke="#555" stroke-width="1.05"/>
<path d="M434.75 56.07L436.45 54.53" stroke="#555" stroke-width="1.05"/>
<path d="M435.96 57.89L438.14 55.91" stroke="#555" stroke-width="1.05"/>
<path d="M437.17 59.71L439.83 57.29" stroke="#555" stroke-width="1.05"/>
<text x="448.2" y="47.28" font-size="10.5" fill="#000" text-anchor="middle" >Ph</text>
<path d="M407.73 55.14L415.36 57.97L415.84 56.23L407.87 54.66Z" fill="#000" stroke="none"/>
<path d="M407.8 54.9L415.6 57.4" stroke="#000" stroke-width="1.6" fill="none" stroke-linejoin="round" stroke-linecap="round"/>
<path d="M415.6 57.1L425.4 69.4" stroke="#000" stroke-width="1.0"/>
<path d="M425.4 69.4L436.8 73.2L443.1 85.6L441.2 96.1L428.9 93.2L422.6 79.9Z" stroke="#000" stroke-width="1.0" fill="none" stroke-linejoin="round" stroke-linecap="round"/>
<path d="M426.24 72.21L434.45 74.94" stroke="#000" stroke-width="1.0"/>
<path d="M440.47 86.64L439.1 94.2" stroke="#000" stroke-width="1.0"/>
<path d="M430.19 90.31L425.65 80.73" stroke="#000" stroke-width="1.0"/>
<path d="M425.4 69.4L436.8 73.2" stroke="#000" stroke-width="1.9" fill="none" stroke-linejoin="round" stroke-linecap="round"/>
<path d="M436.8 73.2L443.1 85.6" stroke="#000" stroke-width="1.9" fill="none" stroke-linejoin="round" stroke-linecap="round"/>
<path d="M443.1 85.6L441.2 96.1" stroke="#000" stroke-width="1.9" fill="none" stroke-linejoin="round" stroke-linecap="round"/>
<text x="399.9" y="40.48" font-size="10.5" fill="#ff1010" text-anchor="middle" >H</text>
<circle cx="868.7" cy="38.5" r="10.35" fill="url(#gC)"/>
<circle cx="866.4" cy="54.9" r="10.049999999999999" fill="url(#gY)"/>
<path d="M765.5 64.3L766.8 71.4L781.9 72.7L793.9 66.5L792.8 59.0L777.9 57.8Z" stroke="#686868" stroke-width="0.85" fill="none" stroke-linejoin="round" stroke-linecap="round"/>
<path d="M769.13 69.09L780.0 70.03" stroke="#686868" stroke-width="0.85"/>
<path d="M777.32 60.92L768.4 65.6" stroke="#686868" stroke-width="0.85"/>
<path d="M792.8 59.0L793.9 66.5L808.1 67.9L821.8 60.3L820.5 53.7L805.4 51.9Z" stroke="#686868" stroke-width="0.85" fill="none" stroke-linejoin="round" stroke-linecap="round"/>
<path d="M795.43 59.69L796.22 65.09" stroke="#686868" stroke-width="0.85"/>
<path d="M808.81 64.65L818.67 59.18" stroke="#686868" stroke-width="0.85"/>
<path d="M818.09 55.93L807.22 54.63" stroke="#686868" stroke-width="0.85"/>
<path d="M773.4 41.2L779.2 37.2L789.9 47.0L793.4 60.3L788.5 63.4L777.9 55.4Z" stroke="#000" stroke-width="1.0" fill="none" stroke-linejoin="round" stroke-linecap="round"/>
<path d="M779.01 40.42L786.71 47.47" stroke="#000" stroke-width="1.0"/>
<path d="M779.65 52.66L776.41 42.43" stroke="#000" stroke-width="1.0"/>
<path d="M788.5 63.4L777.9 55.4" stroke="#000" stroke-width="2.4" fill="none" stroke-linejoin="round" stroke-linecap="round"/>
<path d="M777.9 55.4L773.4 41.2" stroke="#000" stroke-width="2.4" fill="none" stroke-linejoin="round" stroke-linecap="round"/>
<path d="M788.5 63.4L793.4 60.3L803.2 69.2L807.6 84.3L802.7 87.4L792.1 77.2Z" stroke="#000" stroke-width="1.0" fill="none" stroke-linejoin="round" stroke-linecap="round"/>
<path d="M790.52 65.08L794.05 62.85" stroke="#000" stroke-width="1.0"/>
<path d="M801.42 72.01L804.58 82.89" stroke="#000" stroke-width="1.0"/>
<path d="M802.95 84.17L795.32 76.83" stroke="#000" stroke-width="1.0"/>
<path d="M802.7 87.4L792.1 77.2" stroke="#000" stroke-width="2.4" fill="none" stroke-linejoin="round" stroke-linecap="round"/>
<path d="M792.1 77.2L788.5 63.4" stroke="#000" stroke-width="2.4" fill="none" stroke-linejoin="round" stroke-linecap="round"/>
<path d="M820.5 53.7L835.4 47.3" stroke="#000" stroke-width="1.0"/>
<text x="839.6" y="49.68" font-size="10.5" fill="#000" text-anchor="middle" >P</text>
<text x="834.6" y="31.88" font-size="10.5" fill="#000" text-anchor="middle" >Ph</text>
<path d="M839.2 34.1L840.3 40.7" stroke="#000" stroke-width="1.0"/>
<path d="M858.95 51.88L858.65 52.72" stroke="#000" stroke-width="1.1"/>
<path d="M856.21 50.6L855.71 52.0" stroke="#000" stroke-width="1.1"/>
<path d="M853.46 49.33L852.78 51.27" stroke="#000" stroke-width="1.1"/>
<path d="M850.72 48.05L849.84 50.55" stroke="#000" stroke-width="1.1"/>
<path d="M847.97 46.78L846.91 49.82" stroke="#000" stroke-width="1.1"/>
<path d="M845.23 45.51L843.97 49.09" stroke="#000" stroke-width="1.1"/>
<path d="M839.4 51.4L838.1 57.5" stroke="#9a9a9a" stroke-width="1.0"/>
<text x="831.7" y="66.38" font-size="10.5" fill="#8c8c8c" text-anchor="middle" >Ph</text>
<path d="M821.8 60.3L825.6 67.1" stroke="#000" stroke-width="1.0"/>
<text x="827.2" y="75.78" font-size="10.5" fill="#000" text-anchor="middle" >O</text>
<path d="M832.7 72.0L834.6 72.0" stroke="#000" stroke-width="1.0"/>
<text x="839.6" y="75.38" font-size="10.5" fill="#000" text-anchor="middle" >P</text>
<path d="M844.4 72.5L845.8 72.7" stroke="#9a9a9a" stroke-width="1.0"/>
<text x="850.3" y="77.78" font-size="10.5" fill="#8c8c8c" text-anchor="middle" >N</text>
<path d="M848.6 81.1L847.1 85.1" stroke="#9a9a9a" stroke-width="1.0"/>
<path d="M854.6 79.9L859.6 83.7" stroke="#9a9a9a" stroke-width="1.0"/>
<path d="M862.43 60.51L853.66 66.43L855.94 68.97L862.77 60.89Z" fill="#000" stroke="none"/>
<path d="M867.0 61.6L867.0 68.7" stroke="#000" stroke-width="1.0"/>
<text x="868.1" y="77.48" font-size="10.5" fill="#000" text-anchor="middle" >Cl</text>
<text x="833.2" y="90.58" font-size="10.5" fill="#000" text-anchor="middle" >O</text>
<path d="M837.9 77.5L835.8 82.3" stroke="#000" stroke-width="1.0"/>
<path d="M807.6 84.3L820.6 89.4L828.6 87.5" stroke="#000" stroke-width="1.0" fill="none" stroke-linejoin="round" stroke-linecap="round"/>
<path d="M820.6 89.4L819.6 98.9" stroke="#000" stroke-width="1.0"/>
<text x="814.6" y="107.48" font-size="10.5" fill="#000" text-anchor="middle" >Ph</text>
<text x="866.1" y="58.98" font-size="10.5" fill="#000" text-anchor="middle" >Rh</text>
<path d="M904.2 11.4L894.9 15.5L886.0 28.5L887.0 37.1L896.4 34.2L904.6 23.3Z" stroke="#ff1010" stroke-width="1.0" fill="none" stroke-linejoin="round" stroke-linecap="round"/>
<path d="M903.87 14.17L897.17 17.12" stroke="#ff1010" stroke-width="1.0"/>
<path d="M888.52 29.43L889.24 35.62" stroke="#ff1010" stroke-width="1.0"/>
<path d="M895.63 31.23L901.53 23.38" stroke="#ff1010" stroke-width="1.0"/>
<path d="M904.2 11.4L894.9 15.5" stroke="#ff1010" stroke-width="2.1" fill="none" stroke-linejoin="round" stroke-linecap="round"/>
<path d="M894.9 15.5L886.0 28.5" stroke="#ff1010" stroke-width="2.1" fill="none" stroke-linejoin="round" stroke-linecap="round"/>
<path d="M886.0 28.5L887.0 37.1" stroke="#ff1010" stroke-width="2.1" fill="none" stroke-linejoin="round" stroke-linecap="round"/>
<path d="M887.0 37.1L882.8 44.2" stroke="#ff1010" stroke-width="1.0"/>
<path d="M875.0 41.3L882.0 44.7" stroke="#ff1010" stroke-width="1.3"/>
<path d="M882.8 44.2L884.2 59.2" stroke="#ff1010" stroke-width="1.0"/>
<path d="M885.7 44.7L887.4 58.5" stroke="#ff1010" stroke-width="1.0"/>
<path d="M896.4 34.2L896.4 44.0" stroke="#ff1010" stroke-width="1.0"/>
<text x="896.4" y="52.98" font-size="10.5" fill="#ff1010" text-anchor="middle" >Si</text>
<path d="M877.37 54.67L876.83 52.33" stroke="#000" stroke-width="1.05"/>
<path d="M879.52 54.27L878.95 51.77" stroke="#000" stroke-width="1.05"/>
<path d="M881.67 53.87L881.06 51.2" stroke="#000" stroke-width="1.05"/>
<path d="M883.82 53.46L883.18 50.64" stroke="#000" stroke-width="1.05"/>
<path d="M885.97 53.06L885.29 50.07" stroke="#000" stroke-width="1.05"/>
<path d="M888.12 52.66L887.41 49.51" stroke="#000" stroke-width="1.05"/>
<path d="M890.28 52.26L889.52 48.94" stroke="#000" stroke-width="1.05"/>
<path d="M902.97 48.38L902.63 47.22" stroke="#000" stroke-width="1.05"/>
<path d="M905.2 48.06L904.67 46.27" stroke="#000" stroke-width="1.05"/>
<path d="M907.43 47.75L906.71 45.32" stroke="#000" stroke-width="1.05"/>
<path d="M909.66 47.43L908.74 44.37" stroke="#000" stroke-width="1.05"/>
<path d="M901.92 55.08L906.41 61.19L908.39 59.21L902.28 54.72Z" fill="#000" stroke="none"/>
<text x="916.8" y="49.38" font-size="10.5" fill="#000" text-anchor="middle" >Ph</text>
<path d="M876.33 57.24L883.96 60.07L884.44 58.33L876.47 56.76Z" fill="#000" stroke="none"/>
<path d="M876.4 57.0L884.2 59.5" stroke="#000" stroke-width="1.6" fill="none" stroke-linejoin="round" stroke-linecap="round"/>
<path d="M884.2 59.2L894.0 71.5" stroke="#000" stroke-width="1.0"/>
<path d="M894.0 71.5L905.4 75.3L911.7 87.7L909.8 98.2L897.5 95.3L891.2 82.0Z" stroke="#000" stroke-width="1.0" fill="none" stroke-linejoin="round" stroke-linecap="round"/>
<path d="M894.84 74.31L903.05 77.04" stroke="#000" stroke-width="1.0"/>
<path d="M909.07 88.74L907.7 96.3" stroke="#000" stroke-width="1.0"/>
<path d="M898.79 92.41L894.25 82.83" stroke="#000" stroke-width="1.0"/>
<path d="M894.0 71.5L905.4 75.3" stroke="#000" stroke-width="1.9" fill="none" stroke-linejoin="round" stroke-linecap="round"/>
<path d="M905.4 75.3L911.7 87.7" stroke="#000" stroke-width="1.9" fill="none" stroke-linejoin="round" stroke-linecap="round"/>
<path d="M911.7 87.7L909.8 98.2" stroke="#000" stroke-width="1.9" fill="none" stroke-linejoin="round" stroke-linecap="round"/>
<text x="868.5" y="42.58" font-size="10.5" fill="#ff1010" text-anchor="middle" >H</text>
<circle cx="552.4" cy="163.2" r="10.049999999999999" fill="url(#gY)"/>
<path d="M451.5 172.6L452.8 179.7L467.9 181.0L479.9 174.8L478.8 167.3L463.9 166.1Z" stroke="#686868" stroke-width="0.85" fill="none" stroke-linejoin="round" stroke-linecap="round"/>
<path d="M455.13 177.39L466.0 178.33" stroke="#686868" stroke-width="0.85"/>
<path d="M463.32 169.22L454.4 173.9" stroke="#686868" stroke-width="0.85"/>
<path d="M478.8 167.3L479.9 174.8L494.1 176.2L507.8 168.6L506.5 162.0L491.4 160.2Z" stroke="#686868" stroke-width="0.85" fill="none" stroke-linejoin="round" stroke-linecap="round"/>
<path d="M481.43 167.99L482.22 173.39" stroke="#686868" stroke-width="0.85"/>
<path d="M494.81 172.95L504.67 167.48" stroke="#686868" stroke-width="0.85"/>
<path d="M504.09 164.23L493.22 162.93" stroke="#686868" stroke-width="0.85"/>
<path d="M459.4 149.5L465.2 145.5L475.9 155.3L479.4 168.6L474.5 171.7L463.9 163.7Z" stroke="#000" stroke-width="1.0" fill="none" stroke-linejoin="round" stroke-linecap="round"/>
<path d="M465.01 148.72L472.71 155.77" stroke="#000" stroke-width="1.0"/>
<path d="M465.65 160.96L462.41 150.73" stroke="#000" stroke-width="1.0"/>
<path d="M474.5 171.7L463.9 163.7" stroke="#000" stroke-width="2.4" fill="none" stroke-linejoin="round" stroke-linecap="round"/>
<path d="M463.9 163.7L459.4 149.5" stroke="#000" stroke-width="2.4" fill="none" stroke-linejoin="round" stroke-linecap="round"/>
<path d="M474.5 171.7L479.4 168.6L489.2 177.5L493.6 192.6L488.7 195.7L478.1 185.5Z" stroke="#000" stroke-width="1.0" fill="none" stroke-linejoin="round" stroke-linecap="round"/>
<path d="M476.52 173.38L480.05 171.15" stroke="#000" stroke-width="1.0"/>
<path d="M487.42 180.31L490.58 191.19" stroke="#000" stroke-width="1.0"/>
<path d="M488.95 192.47L481.32 185.13" stroke="#000" stroke-width="1.0"/>
<path d="M488.7 195.7L478.1 185.5" stroke="#000" stroke-width="2.4" fill="none" stroke-linejoin="round" stroke-linecap="round"/>
<path d="M478.1 185.5L474.5 171.7" stroke="#000" stroke-width="2.4" fill="none" stroke-linejoin="round" stroke-linecap="round"/>
<path d="M506.5 162.0L521.4 155.6" stroke="#000" stroke-width="1.0"/>
<text x="525.6" y="157.98" font-size="10.5" fill="#000" text-anchor="middle" >P</text>
<text x="520.6" y="140.18" font-size="10.5" fill="#000" text-anchor="middle" >Ph</text>
<path d="M525.2 142.4L526.3 149.0" stroke="#000" stroke-width="1.0"/>
<path d="M544.95 160.18L544.65 161.02" stroke="#000" stroke-width="1.1"/>
<path d="M542.21 158.9L541.71 160.3" stroke="#000" stroke-width="1.1"/>
<path d="M539.46 157.63L538.78 159.57" stroke="#000" stroke-width="1.1"/>
<path d="M536.72 156.35L535.84 158.85" stroke="#000" stroke-width="1.1"/>
<path d="M533.97 155.08L532.91 158.12" stroke="#000" stroke-width="1.1"/>
<path d="M531.23 153.81L529.97 157.39" stroke="#000" stroke-width="1.1"/>
<path d="M525.4 159.7L524.1 165.8" stroke="#9a9a9a" stroke-width="1.0"/>
<text x="517.7" y="174.68" font-size="10.5" fill="#8c8c8c" text-anchor="middle" >Ph</text>
<path d="M507.8 168.6L511.6 175.4" stroke="#000" stroke-width="1.0"/>
<text x="513.2" y="184.08" font-size="10.5" fill="#000" text-anchor="middle" >O</text>
<path d="M518.7 180.3L520.6 180.3" stroke="#000" stroke-width="1.0"/>
<text x="525.6" y="183.68" font-size="10.5" fill="#000" text-anchor="middle" >P</text>
<path d="M530.4 180.8L531.8 181.0" stroke="#9a9a9a" stroke-width="1.0"/>
<text x="536.3" y="186.08" font-size="10.5" fill="#8c8c8c" text-anchor="middle" >N</text>
<path d="M534.6 189.4L533.1 193.4" stroke="#9a9a9a" stroke-width="1.0"/>
<path d="M540.6 188.2L545.6 192.0" stroke="#9a9a9a" stroke-width="1.0"/>
<path d="M548.43 168.81L539.66 174.73L541.94 177.27L548.77 169.19Z" fill="#000" stroke="none"/>
<path d="M553.0 169.9L553.0 177.0" stroke="#000" stroke-width="1.0"/>
<text x="554.1" y="185.78" font-size="10.5" fill="#000" text-anchor="middle" >Cl</text>
<text x="519.2" y="198.88" font-size="10.5" fill="#000" text-anchor="middle" >O</text>
<path d="M523.9 185.8L521.8 190.6" stroke="#000" stroke-width="1.0"/>
<path d="M493.6 192.6L506.6 197.7L514.6 195.8" stroke="#000" stroke-width="1.0" fill="none" stroke-linejoin="round" stroke-linecap="round"/>
<path d="M506.6 197.7L505.6 207.2" stroke="#000" stroke-width="1.0"/>
<text x="500.6" y="215.78" font-size="10.5" fill="#000" text-anchor="middle" >Ph</text>
<text x="555.5" y="167.28" font-size="10.5" fill="#000" text-anchor="middle" >Rh</text>
<path d="M573.9 109.4L585.3 109.9L591.0 123.6L585.3 137.9L573.9 137.3L568.2 123.6Z" stroke="#000" stroke-width="1.0" fill="none" stroke-linejoin="round" stroke-linecap="round"/>
<path d="M583.88 112.74L587.99 122.6" stroke="#000" stroke-width="1.0"/>
<path d="M571.23 122.51L575.33 112.28" stroke="#000" stroke-width="1.0"/>
<path d="M573.9 137.3L568.2 123.6" stroke="#000" stroke-width="1.9" fill="none" stroke-linejoin="round" stroke-linecap="round"/>
<path d="M568.2 123.6L573.9 109.4" stroke="#000" stroke-width="1.9" fill="none" stroke-linejoin="round" stroke-linecap="round"/>
<path d="M573.9 109.4L585.3 109.9" stroke="#000" stroke-width="1.9" fill="none" stroke-linejoin="round" stroke-linecap="round"/>
<path d="M573.9 137.3L570.5 152.2" stroke="#000" stroke-width="1.9" fill="none" stroke-linejoin="round" stroke-linecap="round"/>
<path d="M570.5 152.2L579.0 161.7" stroke="#000" stroke-width="1.9" fill="none" stroke-linejoin="round" stroke-linecap="round"/>
<path d="M573.95 151.55L579.58 157.96" stroke="#000" stroke-width="1.0"/>
<path d="M585.3 137.9L586.3 146.5" stroke="#000" stroke-width="1.0"/>
<path d="M584.7 156.0L579.0 161.7" stroke="#000" stroke-width="1.0"/>
<text x="587.2" y="154.98" font-size="10.5" fill="#000" text-anchor="middle" >Si</text>
<path d="M579.0 161.7L579.0 174.0" stroke="#000" stroke-width="1.0"/>
<path d="M579.0 174.0L585.7 181.7L586.6 197.8L582.8 205.8L576.2 197.8L575.2 181.7Z" stroke="#000" stroke-width="1.0" fill="none" stroke-linejoin="round" stroke-linecap="round"/>
<path d="M583.83 184.07L584.48 195.66" stroke="#000" stroke-width="1.0"/>
<path d="M583.42 203.41L578.67 197.65" stroke="#000" stroke-width="1.0"/>
<path d="M577.53 181.51L580.26 175.96" stroke="#000" stroke-width="1.0"/>
<path d="M579.0 174.0L585.7 181.7" stroke="#000" stroke-width="1.8" fill="none" stroke-linejoin="round" stroke-linecap="round"/>
<path d="M585.7 181.7L586.6 197.8" stroke="#000" stroke-width="1.8" fill="none" stroke-linejoin="round" stroke-linecap="round"/>
<path d="M586.6 197.8L582.8 205.8" stroke="#000" stroke-width="1.8" fill="none" stroke-linejoin="round" stroke-linecap="round"/>
<path d="M591.74 147.77L591.06 147.03" stroke="#686868" stroke-width="1.05"/>
<path d="M593.83 146.22L592.77 145.08" stroke="#686868" stroke-width="1.05"/>
<path d="M595.91 144.67L594.49 143.13" stroke="#686868" stroke-width="1.05"/>
<path d="M598.0 143.12L596.2 141.18" stroke="#686868" stroke-width="1.05"/>
<path d="M600.08 141.58L597.92 139.22" stroke="#686868" stroke-width="1.05"/>
<path d="M594.19 155.83L596.83 158.0L597.77 156.0L594.41 155.37Z" fill="#000" stroke="none"/>
<text x="604.3" y="163.18" font-size="10.5" fill="#000" text-anchor="middle" >Ph</text>
<path d="M574.3 160.7L563.8 162.6" stroke="#000" stroke-width="1.0"/>
<path d="M563.80 162.60L569.91 159.31L568.67 161.72L570.68 163.54Z" fill="#000"/>
<circle cx="711.1" cy="165.5" r="10.049999999999999" fill="url(#gY)"/>
<path d="M619.9 175.1L621.2 182.2L636.3 183.5L648.3 177.3L647.2 169.8L632.3 168.6Z" stroke="#686868" stroke-width="0.85" fill="none" stroke-linejoin="round" stroke-linecap="round"/>
<path d="M623.53 179.89L634.4 180.83" stroke="#686868" stroke-width="0.85"/>
<path d="M631.72 171.72L622.8 176.4" stroke="#686868" stroke-width="0.85"/>
<path d="M647.2 169.8L648.3 177.3L662.5 178.7L676.2 171.1L674.9 164.5L659.8 162.7Z" stroke="#686868" stroke-width="0.85" fill="none" stroke-linejoin="round" stroke-linecap="round"/>
<path d="M649.83 170.49L650.62 175.89" stroke="#686868" stroke-width="0.85"/>
<path d="M663.21 175.45L673.07 169.98" stroke="#686868" stroke-width="0.85"/>
<path d="M672.49 166.73L661.62 165.43" stroke="#686868" stroke-width="0.85"/>
<path d="M627.8 152.0L633.6 148.0L644.3 157.8L647.8 171.1L642.9 174.2L632.3 166.2Z" stroke="#000" stroke-width="1.0" fill="none" stroke-linejoin="round" stroke-linecap="round"/>
<path d="M633.41 151.22L641.11 158.27" stroke="#000" stroke-width="1.0"/>
<path d="M634.05 163.46L630.81 153.23" stroke="#000" stroke-width="1.0"/>
<path d="M642.9 174.2L632.3 166.2" stroke="#000" stroke-width="2.4" fill="none" stroke-linejoin="round" stroke-linecap="round"/>
<path d="M632.3 166.2L627.8 152.0" stroke="#000" stroke-width="2.4" fill="none" stroke-linejoin="round" stroke-linecap="round"/>
<path d="M642.9 174.2L647.8 171.1L657.6 180.0L662.0 195.1L657.1 198.2L646.5 188.0Z" stroke="#000" stroke-width="1.0" fill="none" stroke-linejoin="round" stroke-linecap="round"/>
<path d="M644.92 175.88L648.45 173.65" stroke="#000" stroke-width="1.0"/>
<path d="M655.82 182.81L658.98 193.69" stroke="#000" stroke-width="1.0"/>
<path d="M657.35 194.97L649.72 187.63" stroke="#000" stroke-width="1.0"/>
<path d="M657.1 198.2L646.5 188.0" stroke="#000" stroke-width="2.4" fill="none" stroke-linejoin="round" stroke-linecap="round"/>
<path d="M646.5 188.0L642.9 174.2" stroke="#000" stroke-width="2.4" fill="none" stroke-linejoin="round" stroke-linecap="round"/>
<path d="M674.9 164.5L689.8 158.1" stroke="#000" stroke-width="1.0"/>
<text x="694.0" y="160.48" font-size="10.5" fill="#000" text-anchor="middle" >P</text>
<text x="689.0" y="142.68" font-size="10.5" fill="#000" text-anchor="middle" >Ph</text>
<path d="M693.6 144.9L694.7 151.5" stroke="#000" stroke-width="1.0"/>
<path d="M713.35 162.68L713.05 163.52" stroke="#000" stroke-width="1.1"/>
<path d="M710.61 161.4L710.11 162.8" stroke="#000" stroke-width="1.1"/>
<path d="M707.86 160.13L707.18 162.07" stroke="#000" stroke-width="1.1"/>
<path d="M705.12 158.85L704.24 161.35" stroke="#000" stroke-width="1.1"/>
<path d="M702.37 157.58L701.31 160.62" stroke="#000" stroke-width="1.1"/>
<path d="M699.63 156.31L698.37 159.89" stroke="#000" stroke-width="1.1"/>
<path d="M693.8 162.2L692.5 168.3" stroke="#9a9a9a" stroke-width="1.0"/>
<text x="686.1" y="177.18" font-size="10.5" fill="#8c8c8c" text-anchor="middle" >Ph</text>
<path d="M676.2 171.1L680.0 177.9" stroke="#000" stroke-width="1.0"/>
<text x="681.6" y="186.58" font-size="10.5" fill="#000" text-anchor="middle" >O</text>
<path d="M687.1 182.8L689.0 182.8" stroke="#000" stroke-width="1.0"/>
<text x="694.0" y="186.18" font-size="10.5" fill="#000" text-anchor="middle" >P</text>
<path d="M698.8 183.3L700.2 183.5" stroke="#9a9a9a" stroke-width="1.0"/>
<text x="704.7" y="188.58" font-size="10.5" fill="#8c8c8c" text-anchor="middle" >N</text>
<path d="M703.0 191.9L701.5 195.9" stroke="#9a9a9a" stroke-width="1.0"/>
<path d="M709.0 190.7L714.0 194.5" stroke="#9a9a9a" stroke-width="1.0"/>
<path d="M716.83 171.31L708.06 177.23L710.34 179.77L717.17 171.69Z" fill="#000" stroke="none"/>
<path d="M721.4 172.4L721.4 179.5" stroke="#000" stroke-width="1.0"/>
<text x="722.5" y="188.28" font-size="10.5" fill="#000" text-anchor="middle" >Cl</text>
<text x="687.6" y="201.38" font-size="10.5" fill="#000" text-anchor="middle" >O</text>
<path d="M692.3 188.3L690.2 193.1" stroke="#000" stroke-width="1.0"/>
<path d="M662.0 195.1L675.0 200.2L683.0 198.3" stroke="#000" stroke-width="1.0" fill="none" stroke-linejoin="round" stroke-linecap="round"/>
<path d="M675.0 200.2L674.0 209.7" stroke="#000" stroke-width="1.0"/>
<text x="669.0" y="218.28" font-size="10.5" fill="#000" text-anchor="middle" >Ph</text>
<text x="720.0" y="169.78" font-size="10.5" fill="#000" text-anchor="middle" >Rh</text>
<path d="M727.3 137.8L733.1 135.9L742.6 150.2L744.8 160.6L737.8 161.6L729.2 148.3Z" stroke="#686868" stroke-width="0.85" fill="none" stroke-linejoin="round" stroke-linecap="round"/>
<path d="M728.73 139.43L732.91 138.07" stroke="#686868" stroke-width="0.85"/>
<path d="M740.95 152.07L742.54 159.56" stroke="#686868" stroke-width="0.85"/>
<path d="M738.28 158.65L732.08 149.08" stroke="#686868" stroke-width="0.85"/>
<path d="M725.59 162.67L725.21 161.33" stroke="#686868" stroke-width="1.05"/>
<path d="M727.93 162.2L727.43 160.48" stroke="#686868" stroke-width="1.05"/>
<path d="M730.27 161.74L729.65 159.62" stroke="#686868" stroke-width="1.05"/>
<path d="M732.6 161.27L731.88 158.77" stroke="#686868" stroke-width="1.05"/>
<path d="M734.94 160.8L734.1 157.92" stroke="#686868" stroke-width="1.05"/>
<path d="M737.27 160.33L736.33 157.07" stroke="#686868" stroke-width="1.05"/>
<path d="M741.6 113.1L753.0 113.1L758.7 126.4L753.0 140.7L741.6 140.7L735.9 126.4Z" stroke="#000" stroke-width="1.0" fill="none" stroke-linejoin="round" stroke-linecap="round"/>
<path d="M751.59 115.91L755.7 125.48" stroke="#000" stroke-width="1.0"/>
<path d="M738.9 125.48L743.01 115.91" stroke="#000" stroke-width="1.0"/>
<path d="M741.6 140.7L735.9 126.4" stroke="#000" stroke-width="1.9" fill="none" stroke-linejoin="round" stroke-linecap="round"/>
<path d="M735.9 126.4L741.6 113.1" stroke="#000" stroke-width="1.9" fill="none" stroke-linejoin="round" stroke-linecap="round"/>
<path d="M741.6 113.1L753.0 113.1" stroke="#000" stroke-width="1.9" fill="none" stroke-linejoin="round" stroke-linecap="round"/>
<path d="M741.6 140.7L738.4 154.9" stroke="#000" stroke-width="1.9" fill="none" stroke-linejoin="round" stroke-linecap="round"/>
<path d="M738.4 154.9L746.8 164.4" stroke="#000" stroke-width="1.9" fill="none" stroke-linejoin="round" stroke-linecap="round"/>
<path d="M741.84 154.25L747.39 160.66" stroke="#000" stroke-width="1.0"/>
<path d="M753.0 140.7L754.6 150.2" stroke="#000" stroke-width="1.0"/>
<path d="M753.0 159.7L746.8 164.4" stroke="#000" stroke-width="1.0"/>
<text x="755.5" y="158.68" font-size="10.5" fill="#000" text-anchor="middle" >Si</text>
<path d="M746.8 164.4L747.3 175.9" stroke="#000" stroke-width="1.0"/>
<path d="M747.3 175.9L754.0 184.4L754.9 200.6L751.1 208.2L744.8 200.6L743.5 184.4Z" stroke="#000" stroke-width="1.0" fill="none" stroke-linejoin="round" stroke-linecap="round"/>
<path d="M752.13 186.78L752.78 198.44" stroke="#000" stroke-width="1.0"/>
<path d="M751.76 205.86L747.22 200.39" stroke="#000" stroke-width="1.0"/>
<path d="M745.86 184.03L748.59 177.91" stroke="#000" stroke-width="1.0"/>
<path d="M747.3 175.9L754.0 184.4" stroke="#000" stroke-width="1.8" fill="none" stroke-linejoin="round" stroke-linecap="round"/>
<path d="M754.0 184.4L754.9 200.6" stroke="#000" stroke-width="1.8" fill="none" stroke-linejoin="round" stroke-linecap="round"/>
<path d="M754.9 200.6L751.1 208.2" stroke="#000" stroke-width="1.8" fill="none" stroke-linejoin="round" stroke-linecap="round"/>
<path d="M761.53 156.14L770.47 160.14L771.33 157.26L761.67 155.66Z" fill="#000" stroke="none"/>
<path d="M746.8 155.9L751.3 155.8" stroke="#686868" stroke-width="0.8"/>
<path d="M742.6 163.5L727.3 166.3" stroke="#000" stroke-width="1.0"/>
<path d="M727.30 166.30L733.81 162.97L732.46 165.35L734.56 167.11Z" fill="#000"/>
<circle cx="120.2" cy="231.5" r="10.049999999999999" fill="url(#gY)"/>
<path d="M19.7 239.9L21.0 247.0L36.1 248.3L48.1 242.1L47.0 234.6L32.1 233.4Z" stroke="#686868" stroke-width="0.85" fill="none" stroke-linejoin="round" stroke-linecap="round"/>
<path d="M23.33 244.69L34.2 245.63" stroke="#686868" stroke-width="0.85"/>
<path d="M31.52 236.52L22.6 241.2" stroke="#686868" stroke-width="0.85"/>
<path d="M47.0 234.6L48.1 242.1L62.3 243.5L76.0 235.9L74.7 229.3L59.6 227.5Z" stroke="#686868" stroke-width="0.85" fill="none" stroke-linejoin="round" stroke-linecap="round"/>
<path d="M49.63 235.29L50.42 240.69" stroke="#686868" stroke-width="0.85"/>
<path d="M63.01 240.25L72.87 234.78" stroke="#686868" stroke-width="0.85"/>
<path d="M72.29 231.53L61.42 230.23" stroke="#686868" stroke-width="0.85"/>
<path d="M27.6 216.8L33.4 212.8L44.1 222.6L47.6 235.9L42.7 239.0L32.1 231.0Z" stroke="#000" stroke-width="1.0" fill="none" stroke-linejoin="round" stroke-linecap="round"/>
<path d="M33.21 216.02L40.91 223.07" stroke="#000" stroke-width="1.0"/>
<path d="M33.85 228.26L30.61 218.03" stroke="#000" stroke-width="1.0"/>
<path d="M42.7 239.0L32.1 231.0" stroke="#000" stroke-width="2.4" fill="none" stroke-linejoin="round" stroke-linecap="round"/>
<path d="M32.1 231.0L27.6 216.8" stroke="#000" stroke-width="2.4" fill="none" stroke-linejoin="round" stroke-linecap="round"/>
<path d="M42.7 239.0L47.6 235.9L57.4 244.8L61.8 259.9L56.9 263.0L46.3 252.8Z" stroke="#000" stroke-width="1.0" fill="none" stroke-linejoin="round" stroke-linecap="round"/>
<path d="M44.72 240.68L48.25 238.45" stroke="#000" stroke-width="1.0"/>
<path d="M55.62 247.61L58.78 258.49" stroke="#000" stroke-width="1.0"/>
<path d="M57.15 259.77L49.52 252.43" stroke="#000" stroke-width="1.0"/>
<path d="M56.9 263.0L46.3 252.8" stroke="#000" stroke-width="2.4" fill="none" stroke-linejoin="round" stroke-linecap="round"/>
<path d="M46.3 252.8L42.7 239.0" stroke="#000" stroke-width="2.4" fill="none" stroke-linejoin="round" stroke-linecap="round"/>
<path d="M74.7 229.3L88.8 222.5" stroke="#000" stroke-width="1.0"/>
<text x="93.2" y="224.68" font-size="10.5" fill="#000" text-anchor="middle" >P</text>
<text x="83.6" y="209.58" font-size="10.5" fill="#000" text-anchor="middle" >Ph</text>
<path d="M89.6 210.8L92.0 215.9" stroke="#000" stroke-width="1.0"/>
<path d="M111.99 228.39L111.61 229.21" stroke="#000" stroke-width="1.1"/>
<path d="M109.41 226.87L108.79 228.21" stroke="#000" stroke-width="1.1"/>
<path d="M106.84 225.35L105.96 227.21" stroke="#000" stroke-width="1.1"/>
<path d="M104.26 223.82L103.14 226.22" stroke="#000" stroke-width="1.1"/>
<path d="M101.68 222.3L100.32 225.22" stroke="#000" stroke-width="1.1"/>
<path d="M99.1 220.78L97.5 224.22" stroke="#000" stroke-width="1.1"/>
<text x="89.3" y="236.28" font-size="10.5" fill="#8c8c8c" text-anchor="middle" >Ph</text>
<path d="M76.0 235.9L82.5 240.4" stroke="#000" stroke-width="1.0"/>
<text x="86.4" y="245.78" font-size="10.5" fill="#000" text-anchor="middle" >O</text>
<path d="M92.6 242.4L98.3 242.8" stroke="#000" stroke-width="1.0"/>
<text x="103.6" y="246.88" font-size="10.5" fill="#000" text-anchor="middle" >P</text>
<path d="M113.44 235.5L107.2 238.75L109.2 241.25L113.76 235.9Z" fill="#000" stroke="none"/>
<text x="85.6" y="259.58" font-size="10.5" fill="#000" text-anchor="middle" >O</text>
<path d="M90.4 252.6L99.1 247.0" stroke="#000" stroke-width="1.0"/>
<path d="M104.3 249.1L104.7 252.6" stroke="#000" stroke-width="1.0"/>
<text x="104.7" y="261.88" font-size="10.5" fill="#8c8c8c" text-anchor="middle" >N</text>
<path d="M100.7 262.1L94.4 266.9" stroke="#9a9a9a" stroke-width="1.0"/>
<path d="M106.2 263.7L107.0 268.4" stroke="#9a9a9a" stroke-width="1.0"/>
<path d="M61.8 259.9L73.8 260.5L80.9 257.3" stroke="#000" stroke-width="1.0" fill="none" stroke-linejoin="round" stroke-linecap="round"/>
<path d="M73.8 260.5L72.2 272.0" stroke="#000" stroke-width="1.0"/>
<text x="67.7" y="280.58" font-size="10.5" fill="#000" text-anchor="middle" >Ph</text>
<text x="121.3" y="235.78" font-size="10.5" fill="#000" text-anchor="middle" >Rh</text>
<circle cx="154.1" cy="224.9" r="10.149999999999999" fill="url(#gC)"/>
<circle cx="121.1" cy="252.1" r="10.649999999999999" fill="url(#gG)"/>
<path d="M145.8 177.0L155.1 185.7L155.1 201.4L145.6 208.8L136.5 201.4L136.5 185.7Z" stroke="#000" stroke-width="1.0" fill="none" stroke-linejoin="round" stroke-linecap="round"/>
<path d="M152.8 187.9L152.8 199.2" stroke="#000" stroke-width="1.0"/>
<path d="M145.78 205.98L139.23 200.65" stroke="#000" stroke-width="1.0"/>
<path d="M139.37 186.16L146.07 179.9" stroke="#000" stroke-width="1.0"/>
<path d="M145.6 208.8L145.4 230.5" stroke="#000" stroke-width="1.0"/>
<path d="M145.4 230.5L145.4 239.3" stroke="#ff1010" stroke-width="1.0"/>
<path d="M141.6 219.1L141.6 239.3" stroke="#ff1010" stroke-width="1.0"/>
<path d="M147.8 219.1L147.8 239.3" stroke="#ff1010" stroke-width="1.0"/>
<path d="M150.0 219.1L150.0 239.3" stroke="#ff1010" stroke-width="1.0"/>
<path d="M145.4 239.3L147.4 252.5" stroke="#ff1010" stroke-width="1.0"/>
<path d="M131.9 230.17L131.5 228.83" stroke="#686868" stroke-width="1.05"/>
<path d="M134.18 229.74L133.67 227.96" stroke="#686868" stroke-width="1.05"/>
<path d="M136.47 229.3L135.83 227.1" stroke="#686868" stroke-width="1.05"/>
<path d="M138.76 228.87L137.99 226.23" stroke="#686868" stroke-width="1.05"/>
<path d="M141.05 228.44L140.15 225.36" stroke="#686868" stroke-width="1.05"/>
<text x="153.4" y="228.58" font-size="10.5" fill="#ff1010" text-anchor="middle" font-weight="bold" >H</text>
<text x="116.5" y="255.76" font-size="11" fill="#000" text-anchor="middle" >Cl</text>
<path d="M123.8 254.8L130.8 257.9" stroke="#000" stroke-width="1.0"/>
<text x="135.7" y="264.48" font-size="10.5" fill="#ff1010" text-anchor="middle" font-weight="bold" >Si</text>
<path d="M141.6 260.9L150.3 260.9" stroke="#ff1010" stroke-width="1.0"/>
<path d="M147.2 252.1L156.3 253.0L169.9 265.2L171.7 273.0L162.1 272.1L150.4 260.8Z" stroke="#ff1010" stroke-width="1.0" fill="none" stroke-linejoin="round" stroke-linecap="round"/>
<path d="M156.73 256.35L166.53 265.13" stroke="#ff1010" stroke-width="1.0"/>
<path d="M170.56 270.68L163.65 270.04" stroke="#ff1010" stroke-width="1.0"/>
<path d="M152.02 258.82L149.71 252.56" stroke="#ff1010" stroke-width="1.0"/>
<path d="M147.2 252.1L156.3 253.0" stroke="#ff1010" stroke-width="2.0" fill="none" stroke-linejoin="round" stroke-linecap="round"/>
<path d="M156.3 253.0L169.9 265.2" stroke="#ff1010" stroke-width="2.0" fill="none" stroke-linejoin="round" stroke-linecap="round"/>
<path d="M169.9 265.2L171.7 273.0" stroke="#ff1010" stroke-width="2.0" fill="none" stroke-linejoin="round" stroke-linecap="round"/>
<path d="M139.4 236.7L128.9 233.2" stroke="#000" stroke-width="1.0"/>
<path d="M128.90 233.20L135.84 233.25L133.60 234.77L134.48 237.33Z" fill="#000"/>
<text x="117.6" y="272.98" font-size="10.5" fill="#000" text-anchor="middle" >Ph</text>
<path d="M129.65 264.3L124.84 266.22L126.76 268.78L129.95 264.7Z" fill="#000" stroke="none"/>
<path d="M134.9 265.94L135.9 266.06" stroke="#555" stroke-width="1.05"/>
<path d="M134.42 268.02L135.9 268.18" stroke="#555" stroke-width="1.05"/>
<path d="M133.95 270.09L135.89 270.31" stroke="#555" stroke-width="1.05"/>
<path d="M133.47 272.16L135.89 272.44" stroke="#555" stroke-width="1.05"/>
<path d="M132.99 274.23L135.89 274.57" stroke="#555" stroke-width="1.05"/>
<path d="M132.51 276.31L135.89 276.69" stroke="#555" stroke-width="1.05"/>
<circle cx="1180.5" cy="230.6" r="10.049999999999999" fill="url(#gY)"/>
<path d="M1080.0 239.0L1081.3 246.1L1096.4 247.4L1108.4 241.2L1107.3 233.7L1092.4 232.5Z" stroke="#686868" stroke-width="0.85" fill="none" stroke-linejoin="round" stroke-linecap="round"/>
<path d="M1083.63 243.79L1094.5 244.73" stroke="#686868" stroke-width="0.85"/>
<path d="M1091.82 235.62L1082.9 240.3" stroke="#686868" stroke-width="0.85"/>
<path d="M1107.3 233.7L1108.4 241.2L1122.6 242.6L1136.3 235.0L1135.0 228.4L1119.9 226.6Z" stroke="#686868" stroke-width="0.85" fill="none" stroke-linejoin="round" stroke-linecap="round"/>
<path d="M1109.93 234.39L1110.72 239.79" stroke="#686868" stroke-width="0.85"/>
<path d="M1123.31 239.35L1133.17 233.88" stroke="#686868" stroke-width="0.85"/>
<path d="M1132.59 230.63L1121.72 229.33" stroke="#686868" stroke-width="0.85"/>
<path d="M1087.9 215.9L1093.7 211.9L1104.4 221.7L1107.9 235.0L1103.0 238.1L1092.4 230.1Z" stroke="#000" stroke-width="1.0" fill="none" stroke-linejoin="round" stroke-linecap="round"/>
<path d="M1093.51 215.12L1101.21 222.17" stroke="#000" stroke-width="1.0"/>
<path d="M1094.15 227.36L1090.91 217.13" stroke="#000" stroke-width="1.0"/>
<path d="M1103.0 238.1L1092.4 230.1" stroke="#000" stroke-width="2.4" fill="none" stroke-linejoin="round" stroke-linecap="round"/>
<path d="M1092.4 230.1L1087.9 215.9" stroke="#000" stroke-width="2.4" fill="none" stroke-linejoin="round" stroke-linecap="round"/>
<path d="M1103.0 238.1L1107.9 235.0L1117.7 243.9L1122.1 259.0L1117.2 262.1L1106.6 251.9Z" stroke="#000" stroke-width="1.0" fill="none" stroke-linejoin="round" stroke-linecap="round"/>
<path d="M1105.02 239.78L1108.55 237.55" stroke="#000" stroke-width="1.0"/>
<path d="M1115.92 246.71L1119.08 257.59" stroke="#000" stroke-width="1.0"/>
<path d="M1117.45 258.87L1109.82 251.53" stroke="#000" stroke-width="1.0"/>
<path d="M1117.2 262.1L1106.6 251.9" stroke="#000" stroke-width="2.4" fill="none" stroke-linejoin="round" stroke-linecap="round"/>
<path d="M1106.6 251.9L1103.0 238.1" stroke="#000" stroke-width="2.4" fill="none" stroke-linejoin="round" stroke-linecap="round"/>
<path d="M1135.0 228.4L1149.1 221.6" stroke="#000" stroke-width="1.0"/>
<text x="1153.5" y="223.78" font-size="10.5" fill="#000" text-anchor="middle" >P</text>
<text x="1143.9" y="208.68" font-size="10.5" fill="#000" text-anchor="middle" >Ph</text>
<path d="M1149.9 209.9L1152.3 215.0" stroke="#000" stroke-width="1.0"/>
<path d="M1172.29 227.49L1171.91 228.31" stroke="#000" stroke-width="1.1"/>
<path d="M1169.71 225.97L1169.09 227.31" stroke="#000" stroke-width="1.1"/>
<path d="M1167.14 224.45L1166.26 226.31" stroke="#000" stroke-width="1.1"/>
<path d="M1164.56 222.92L1163.44 225.32" stroke="#000" stroke-width="1.1"/>
<path d="M1161.98 221.4L1160.62 224.32" stroke="#000" stroke-width="1.1"/>
<path d="M1159.4 219.88L1157.8 223.32" stroke="#000" stroke-width="1.1"/>
<text x="1149.6" y="235.38" font-size="10.5" fill="#8c8c8c" text-anchor="middle" >Ph</text>
<path d="M1136.3 235.0L1142.8 239.5" stroke="#000" stroke-width="1.0"/>
<text x="1146.7" y="244.88" font-size="10.5" fill="#000" text-anchor="middle" >O</text>
<path d="M1152.9 241.5L1158.6 241.9" stroke="#000" stroke-width="1.0"/>
<text x="1163.9" y="245.98" font-size="10.5" fill="#000" text-anchor="middle" >P</text>
<path d="M1173.74 234.6L1167.5 237.85L1169.5 240.35L1174.06 235.0Z" fill="#000" stroke="none"/>
<text x="1145.9" y="258.68" font-size="10.5" fill="#000" text-anchor="middle" >O</text>
<path d="M1150.7 251.7L1159.4 246.1" stroke="#000" stroke-width="1.0"/>
<path d="M1164.6 248.2L1165.0 251.7" stroke="#000" stroke-width="1.0"/>
<text x="1165.0" y="260.98" font-size="10.5" fill="#8c8c8c" text-anchor="middle" >N</text>
<path d="M1161.0 261.2L1154.7 266.0" stroke="#9a9a9a" stroke-width="1.0"/>
<path d="M1166.5 262.8L1167.3 267.5" stroke="#9a9a9a" stroke-width="1.0"/>
<path d="M1122.1 259.0L1134.1 259.6L1141.2 256.4" stroke="#000" stroke-width="1.0" fill="none" stroke-linejoin="round" stroke-linecap="round"/>
<path d="M1134.1 259.6L1132.5 271.1" stroke="#000" stroke-width="1.0"/>
<text x="1128.0" y="279.68" font-size="10.5" fill="#000" text-anchor="middle" >Ph</text>
<text x="1181.6" y="234.88" font-size="10.5" fill="#000" text-anchor="middle" >Rh</text>
<circle cx="1214.4" cy="224.0" r="10.149999999999999" fill="url(#gC)"/>
<circle cx="1181.4" cy="251.2" r="10.649999999999999" fill="url(#gG)"/>
<path d="M1206.1 176.1L1215.4 184.8L1215.4 200.5L1205.9 207.9L1196.8 200.5L1196.8 184.8Z" stroke="#000" stroke-width="1.0" fill="none" stroke-linejoin="round" stroke-linecap="round"/>
<path d="M1213.1 187.0L1213.1 198.3" stroke="#000" stroke-width="1.0"/>
<path d="M1206.08 205.08L1199.53 199.75" stroke="#000" stroke-width="1.0"/>
<path d="M1199.67 185.26L1206.37 179.0" stroke="#000" stroke-width="1.0"/>
<path d="M1205.9 207.9L1205.7 229.6" stroke="#000" stroke-width="1.0"/>
<path d="M1205.7 229.6L1205.7 238.4" stroke="#ff1010" stroke-width="1.0"/>
<path d="M1201.9 218.2L1201.9 238.4" stroke="#ff1010" stroke-width="1.0"/>
<path d="M1208.1 218.2L1208.1 238.4" stroke="#ff1010" stroke-width="1.0"/>
<path d="M1210.3 218.2L1210.3 238.4" stroke="#ff1010" stroke-width="1.0"/>
<path d="M1205.7 238.4L1207.7 251.6" stroke="#ff1010" stroke-width="1.0"/>
<path d="M1192.2 229.27L1191.8 227.93" stroke="#686868" stroke-width="1.05"/>
<path d="M1194.48 228.84L1193.97 227.06" stroke="#686868" stroke-width="1.05"/>
<path d="M1196.77 228.4L1196.13 226.2" stroke="#686868" stroke-width="1.05"/>
<path d="M1199.06 227.97L1198.29 225.33" stroke="#686868" stroke-width="1.05"/>
<path d="M1201.35 227.54L1200.45 224.46" stroke="#686868" stroke-width="1.05"/>
<text x="1213.7" y="227.68" font-size="10.5" fill="#ff1010" text-anchor="middle" font-weight="bold" >H</text>
<text x="1176.8" y="254.86" font-size="11" fill="#000" text-anchor="middle" >Cl</text>
<path d="M1184.1 253.9L1191.1 257.0" stroke="#000" stroke-width="1.0"/>
<text x="1196.0" y="263.58" font-size="10.5" fill="#ff1010" text-anchor="middle" font-weight="bold" >Si</text>
<path d="M1201.9 260.0L1210.6 260.0" stroke="#ff1010" stroke-width="1.0"/>
<path d="M1207.9 251.9L1216.6 251.9L1229.7 264.1L1231.8 271.9L1222.7 271.1L1210.5 260.3Z" stroke="#ff1010" stroke-width="1.0" fill="none" stroke-linejoin="round" stroke-linecap="round"/>
<path d="M1216.93 255.22L1226.37 264.0" stroke="#ff1010" stroke-width="1.0"/>
<path d="M1230.72 269.6L1224.17 269.02" stroke="#ff1010" stroke-width="1.0"/>
<path d="M1212.24 258.47L1210.37 252.43" stroke="#ff1010" stroke-width="1.0"/>
<path d="M1207.9 251.9L1216.6 251.9" stroke="#ff1010" stroke-width="2.0" fill="none" stroke-linejoin="round" stroke-linecap="round"/>
<path d="M1216.6 251.9L1229.7 264.1" stroke="#ff1010" stroke-width="2.0" fill="none" stroke-linejoin="round" stroke-linecap="round"/>
<path d="M1229.7 264.1L1231.8 271.9" stroke="#ff1010" stroke-width="2.0" fill="none" stroke-linejoin="round" stroke-linecap="round"/>
<path d="M1201.8 233.0L1190.4 233.0" stroke="#000" stroke-width="1.0"/>
<path d="M1190.40 233.00L1197.00 230.85L1195.35 233.00L1197.00 235.15Z" fill="#000"/>
<text x="1178.8" y="271.68" font-size="10.5" fill="#8c8c8c" text-anchor="middle" >Ph</text>
<path d="M1190.45 262.76L1190.95 263.64" stroke="#686868" stroke-width="1.05"/>
<path d="M1188.76 263.34L1189.58 264.79" stroke="#686868" stroke-width="1.05"/>
<path d="M1187.06 263.92L1188.21 265.95" stroke="#686868" stroke-width="1.05"/>
<path d="M1185.36 264.49L1186.84 267.11" stroke="#686868" stroke-width="1.05"/>
<path d="M1195.45 264.96L1192.42 275.35L1195.38 275.85L1195.95 265.04Z" fill="#000" stroke="none"/>
<circle cx="342.7" cy="305.7" r="10.35" fill="url(#gC)"/>
<circle cx="320.8" cy="315.2" r="10.049999999999999" fill="url(#gY)"/>
<path d="M321.6 322.3L321.6 328.2" stroke="#000" stroke-width="1.0"/>
<text x="322.4" y="337.68" font-size="10.5" fill="#000" text-anchor="middle" >Cl</text>
<path d="M223.5 330.8L224.8 337.9L239.9 339.2L251.9 333.0L250.8 325.5L235.9 324.3Z" stroke="#686868" stroke-width="0.85" fill="none" stroke-linejoin="round" stroke-linecap="round"/>
<path d="M227.13 335.59L238.0 336.53" stroke="#686868" stroke-width="0.85"/>
<path d="M235.32 327.42L226.4 332.1" stroke="#686868" stroke-width="0.85"/>
<path d="M250.8 325.5L251.9 333.0L266.1 334.4L279.8 326.8L278.5 320.2L263.4 318.4Z" stroke="#686868" stroke-width="0.85" fill="none" stroke-linejoin="round" stroke-linecap="round"/>
<path d="M253.43 326.19L254.22 331.59" stroke="#686868" stroke-width="0.85"/>
<path d="M266.81 331.15L276.67 325.68" stroke="#686868" stroke-width="0.85"/>
<path d="M276.09 322.43L265.22 321.13" stroke="#686868" stroke-width="0.85"/>
<path d="M231.4 307.7L237.2 303.7L247.9 313.5L251.4 326.8L246.5 329.9L235.9 321.9Z" stroke="#000" stroke-width="1.0" fill="none" stroke-linejoin="round" stroke-linecap="round"/>
<path d="M237.01 306.92L244.71 313.97" stroke="#000" stroke-width="1.0"/>
<path d="M237.65 319.16L234.41 308.93" stroke="#000" stroke-width="1.0"/>
<path d="M246.5 329.9L235.9 321.9" stroke="#000" stroke-width="2.4" fill="none" stroke-linejoin="round" stroke-linecap="round"/>
<path d="M235.9 321.9L231.4 307.7" stroke="#000" stroke-width="2.4" fill="none" stroke-linejoin="round" stroke-linecap="round"/>
<path d="M246.5 329.9L251.4 326.8L261.2 335.7L265.6 350.8L260.7 353.9L250.1 343.7Z" stroke="#000" stroke-width="1.0" fill="none" stroke-linejoin="round" stroke-linecap="round"/>
<path d="M248.52 331.58L252.05 329.35" stroke="#000" stroke-width="1.0"/>
<path d="M259.42 338.51L262.58 349.39" stroke="#000" stroke-width="1.0"/>
<path d="M260.95 350.67L253.32 343.33" stroke="#000" stroke-width="1.0"/>
<path d="M260.7 353.9L250.1 343.7" stroke="#000" stroke-width="2.4" fill="none" stroke-linejoin="round" stroke-linecap="round"/>
<path d="M250.1 343.7L246.5 329.9" stroke="#000" stroke-width="2.4" fill="none" stroke-linejoin="round" stroke-linecap="round"/>
<path d="M278.5 320.2L293.0 313.6" stroke="#000" stroke-width="1.0"/>
<text x="297.0" y="315.68" font-size="10.5" fill="#000" text-anchor="middle" >P</text>
<text x="288.0" y="300.48" font-size="10.5" fill="#000" text-anchor="middle" >Ph</text>
<path d="M293.4 302.2L296.2 307.0" stroke="#000" stroke-width="1.0"/>
<path d="M316.1 315.06L315.9 315.94" stroke="#000" stroke-width="1.1"/>
<path d="M313.6 314.2L313.28 315.64" stroke="#000" stroke-width="1.1"/>
<path d="M311.11 313.34L310.65 315.34" stroke="#000" stroke-width="1.1"/>
<path d="M308.61 312.47L308.03 315.05" stroke="#000" stroke-width="1.1"/>
<path d="M306.12 311.61L305.4 314.75" stroke="#000" stroke-width="1.1"/>
<path d="M303.62 310.75L302.78 314.45" stroke="#000" stroke-width="1.1"/>
<text x="293.4" y="327.08" font-size="10.5" fill="#8c8c8c" text-anchor="middle" >Ph</text>
<path d="M279.8 326.8L288.8 331.2" stroke="#000" stroke-width="1.0"/>
<text x="293.0" y="337.08" font-size="10.5" fill="#000" text-anchor="middle" >O</text>
<path d="M298.3 332.8L304.3 332.4" stroke="#000" stroke-width="1.0"/>
<text x="309.4" y="335.68" font-size="10.5" fill="#000" text-anchor="middle" >P</text>
<path d="M317.0 320.65L310.9 326.87L313.5 328.73L317.4 320.95Z" fill="#000" stroke="none"/>
<text x="297.0" y="353.68" font-size="10.5" fill="#000" text-anchor="middle" >O</text>
<path d="M300.3 345.8L306.5 337.0" stroke="#000" stroke-width="1.0"/>
<path d="M311.0 336.2L313.0 343.4" stroke="#9a9a9a" stroke-width="1.0"/>
<text x="314.1" y="351.78" font-size="10.5" fill="#8c8c8c" text-anchor="middle" >N</text>
<path d="M309.8 352.8L303.8 358.4" stroke="#9a9a9a" stroke-width="1.0"/>
<path d="M316.6 353.8L321.5 357.2" stroke="#9a9a9a" stroke-width="1.0"/>
<path d="M265.6 350.8L282.3 355.8L292.3 352.0" stroke="#000" stroke-width="1.0" fill="none" stroke-linejoin="round" stroke-linecap="round"/>
<path d="M282.3 355.8L281.1 365.7" stroke="#000" stroke-width="1.0"/>
<text x="276.6" y="375.98" font-size="10.5" fill="#000" text-anchor="middle" >Ph</text>
<text x="320.5" y="319.38" font-size="10.5" fill="#000" text-anchor="middle" >Rh</text>
<path d="M335.1 265.3L343.8 271.6L345.8 288.3L340.6 295.9L331.1 289.5L327.9 274.0Z" stroke="#000" stroke-width="1.0" fill="none" stroke-linejoin="round" stroke-linecap="round"/>
<path d="M341.9 274.2L343.34 286.22" stroke="#000" stroke-width="1.0"/>
<path d="M340.5 293.18L333.66 288.57" stroke="#000" stroke-width="1.0"/>
<path d="M330.6 274.18L335.79 267.92" stroke="#000" stroke-width="1.0"/>
<path d="M335.1 265.3L343.8 271.6" stroke="#000" stroke-width="1.8" fill="none" stroke-linejoin="round" stroke-linecap="round"/>
<path d="M343.8 271.6L345.8 288.3" stroke="#000" stroke-width="1.8" fill="none" stroke-linejoin="round" stroke-linecap="round"/>
<path d="M345.8 288.3L340.6 295.9" stroke="#000" stroke-width="1.8" fill="none" stroke-linejoin="round" stroke-linecap="round"/>
<path d="M340.6 295.9L345.8 328.5" stroke="#ff1010" stroke-width="1.0"/>
<path d="M342.3 295.7L347.9 327.9" stroke="#ff1010" stroke-width="1.0"/>
<path d="M344.2 302.4L349.8 327.2" stroke="#ff1010" stroke-width="1.0"/>
<path d="M330.63 312.8L329.97 311.8" stroke="#686868" stroke-width="1.05"/>
<path d="M332.92 311.68L331.88 310.12" stroke="#686868" stroke-width="1.05"/>
<path d="M335.2 310.55L333.8 308.45" stroke="#686868" stroke-width="1.05"/>
<path d="M337.49 309.43L335.71 306.77" stroke="#686868" stroke-width="1.05"/>
<text x="341.1" y="309.78" font-size="10.5" fill="#ff1010" text-anchor="middle" >H</text>
<path d="M346.5 309.7L348.6 311.2" stroke="#ff1010" stroke-width="1.0"/>
<text x="354.9" y="318.98" font-size="10.5" fill="#ff1010" text-anchor="middle" >Si</text>
<path d="M358.1 320.0L360.4 331.4" stroke="#ff1010" stroke-width="1.0"/>
<path d="M347.9 328.1L351.7 331.8" stroke="#ff1010" stroke-width="1.0"/>
<path d="M351.7 331.8L360.4 331.4L375.5 339.8L379.4 346.9L370.7 346.9L355.7 339.0Z" stroke="#ff1010" stroke-width="1.0" fill="none" stroke-linejoin="round" stroke-linecap="round"/>
<path d="M361.44 334.5L372.32 340.55" stroke="#ff1010" stroke-width="1.0"/>
<path d="M378.18 344.7L371.92 344.7" stroke="#ff1010" stroke-width="1.0"/>
<path d="M357.06 336.92L354.18 331.74" stroke="#ff1010" stroke-width="1.0"/>
<path d="M351.7 331.8L360.4 331.4" stroke="#ff1010" stroke-width="1.7" fill="none" stroke-linejoin="round" stroke-linecap="round"/>
<path d="M379.4 346.9L370.7 346.9" stroke="#ff1010" stroke-width="1.7" fill="none" stroke-linejoin="round" stroke-linecap="round"/>
<path d="M344.3 324.7L328.7 319.2" stroke="#000" stroke-width="1.0"/>
<path d="M328.70 319.20L335.64 319.37L333.37 320.85L334.21 323.42Z" fill="#000"/>
<path d="M359.84 308.15L358.96 307.05" stroke="#000" stroke-width="1.05"/>
<path d="M361.89 307.01L360.51 305.29" stroke="#000" stroke-width="1.05"/>
<path d="M363.94 305.87L362.06 303.53" stroke="#000" stroke-width="1.05"/>
<text x="368.0" y="303.48" font-size="10.5" fill="#000" text-anchor="middle" >Ph</text>
<path d="M360.34 315.44L368.18 318.46L368.82 315.74L360.46 314.96Z" fill="#000" stroke="none"/>
<circle cx="956.1" cy="303.8" r="10.35" fill="url(#gC)"/>
<circle cx="934.6" cy="312.8" r="10.049999999999999" fill="url(#gY)"/>
<path d="M935.4 319.9L935.4 325.8" stroke="#000" stroke-width="1.0"/>
<text x="936.2" y="335.28" font-size="10.5" fill="#000" text-anchor="middle" >Cl</text>
<path d="M837.3 328.4L838.6 335.5L853.7 336.8L865.7 330.6L864.6 323.1L849.7 321.9Z" stroke="#686868" stroke-width="0.85" fill="none" stroke-linejoin="round" stroke-linecap="round"/>
<path d="M840.93 333.19L851.8 334.13" stroke="#686868" stroke-width="0.85"/>
<path d="M849.12 325.02L840.2 329.7" stroke="#686868" stroke-width="0.85"/>
<path d="M864.6 323.1L865.7 330.6L879.9 332.0L893.6 324.4L892.3 317.8L877.2 316.0Z" stroke="#686868" stroke-width="0.85" fill="none" stroke-linejoin="round" stroke-linecap="round"/>
<path d="M867.23 323.79L868.02 329.19" stroke="#686868" stroke-width="0.85"/>
<path d="M880.61 328.75L890.47 323.28" stroke="#686868" stroke-width="0.85"/>
<path d="M889.89 320.03L879.02 318.73" stroke="#686868" stroke-width="0.85"/>
<path d="M845.2 305.3L851.0 301.3L861.7 311.1L865.2 324.4L860.3 327.5L849.7 319.5Z" stroke="#000" stroke-width="1.0" fill="none" stroke-linejoin="round" stroke-linecap="round"/>
<path d="M850.81 304.52L858.51 311.57" stroke="#000" stroke-width="1.0"/>
<path d="M851.45 316.76L848.21 306.53" stroke="#000" stroke-width="1.0"/>
<path d="M860.3 327.5L849.7 319.5" stroke="#000" stroke-width="2.4" fill="none" stroke-linejoin="round" stroke-linecap="round"/>
<path d="M849.7 319.5L845.2 305.3" stroke="#000" stroke-width="2.4" fill="none" stroke-linejoin="round" stroke-linecap="round"/>
<path d="M860.3 327.5L865.2 324.4L875.0 333.3L879.4 348.4L874.5 351.5L863.9 341.3Z" stroke="#000" stroke-width="1.0" fill="none" stroke-linejoin="round" stroke-linecap="round"/>
<path d="M862.32 329.18L865.85 326.95" stroke="#000" stroke-width="1.0"/>
<path d="M873.22 336.11L876.38 346.99" stroke="#000" stroke-width="1.0"/>
<path d="M874.75 348.27L867.12 340.93" stroke="#000" stroke-width="1.0"/>
<path d="M874.5 351.5L863.9 341.3" stroke="#000" stroke-width="2.4" fill="none" stroke-linejoin="round" stroke-linecap="round"/>
<path d="M863.9 341.3L860.3 327.5" stroke="#000" stroke-width="2.4" fill="none" stroke-linejoin="round" stroke-linecap="round"/>
<path d="M892.3 317.8L906.8 311.2" stroke="#000" stroke-width="1.0"/>
<text x="910.8" y="313.28" font-size="10.5" fill="#000" text-anchor="middle" >P</text>
<text x="901.8" y="298.08" font-size="10.5" fill="#000" text-anchor="middle" >Ph</text>
<path d="M907.2 299.8L910.0 304.6" stroke="#000" stroke-width="1.0"/>
<path d="M929.9 312.66L929.7 313.54" stroke="#000" stroke-width="1.1"/>
<path d="M927.4 311.8L927.08 313.24" stroke="#000" stroke-width="1.1"/>
<path d="M924.91 310.94L924.45 312.94" stroke="#000" stroke-width="1.1"/>
<path d="M922.41 310.07L921.83 312.65" stroke="#000" stroke-width="1.1"/>
<path d="M919.92 309.21L919.2 312.35" stroke="#000" stroke-width="1.1"/>
<path d="M917.42 308.35L916.58 312.05" stroke="#000" stroke-width="1.1"/>
<text x="907.2" y="324.68" font-size="10.5" fill="#8c8c8c" text-anchor="middle" >Ph</text>
<path d="M893.6 324.4L902.6 328.8" stroke="#000" stroke-width="1.0"/>
<text x="906.8" y="334.68" font-size="10.5" fill="#000" text-anchor="middle" >O</text>
<path d="M912.1 330.4L918.1 330.0" stroke="#000" stroke-width="1.0"/>
<text x="923.2" y="333.28" font-size="10.5" fill="#000" text-anchor="middle" >P</text>
<path d="M930.8 318.25L924.7 324.47L927.3 326.33L931.2 318.55Z" fill="#000" stroke="none"/>
<text x="910.8" y="351.28" font-size="10.5" fill="#000" text-anchor="middle" >O</text>
<path d="M914.1 343.4L920.3 334.6" stroke="#000" stroke-width="1.0"/>
<path d="M924.8 333.8L926.8 341.0" stroke="#9a9a9a" stroke-width="1.0"/>
<text x="927.9" y="349.38" font-size="10.5" fill="#8c8c8c" text-anchor="middle" >N</text>
<path d="M923.6 350.4L917.6 356.0" stroke="#9a9a9a" stroke-width="1.0"/>
<path d="M930.4 351.4L935.3 354.8" stroke="#9a9a9a" stroke-width="1.0"/>
<path d="M879.4 348.4L896.1 353.4L906.1 349.6" stroke="#000" stroke-width="1.0" fill="none" stroke-linejoin="round" stroke-linecap="round"/>
<path d="M896.1 353.4L894.9 363.3" stroke="#000" stroke-width="1.0"/>
<text x="890.4" y="373.58" font-size="10.5" fill="#000" text-anchor="middle" >Ph</text>
<text x="934.0" y="316.98" font-size="10.5" fill="#000" text-anchor="middle" >Rh</text>
<path d="M948.2 262.6L957.3 269.2L958.8 285.9L954.1 293.8L944.6 287.4L941.4 271.6Z" stroke="#000" stroke-width="1.0" fill="none" stroke-linejoin="round" stroke-linecap="round"/>
<path d="M955.32 271.73L956.4 283.76" stroke="#000" stroke-width="1.0"/>
<path d="M954.0 291.08L947.16 286.47" stroke="#000" stroke-width="1.0"/>
<path d="M944.11 271.67L949.0 265.19" stroke="#000" stroke-width="1.0"/>
<path d="M948.2 262.6L957.3 269.2" stroke="#000" stroke-width="1.8" fill="none" stroke-linejoin="round" stroke-linecap="round"/>
<path d="M957.3 269.2L958.8 285.9" stroke="#000" stroke-width="1.8" fill="none" stroke-linejoin="round" stroke-linecap="round"/>
<path d="M958.8 285.9L954.1 293.8" stroke="#000" stroke-width="1.8" fill="none" stroke-linejoin="round" stroke-linecap="round"/>
<path d="M954.1 293.8L959.3 326.4" stroke="#ff1010" stroke-width="1.0"/>
<path d="M955.8 293.6L961.4 325.8" stroke="#ff1010" stroke-width="1.0"/>
<path d="M957.7 300.3L963.3 325.1" stroke="#ff1010" stroke-width="1.0"/>
<path d="M944.43 310.4L943.77 309.4" stroke="#686868" stroke-width="1.05"/>
<path d="M946.72 309.28L945.68 307.72" stroke="#686868" stroke-width="1.05"/>
<path d="M949.0 308.15L947.6 306.05" stroke="#686868" stroke-width="1.05"/>
<path d="M951.29 307.03L949.51 304.37" stroke="#686868" stroke-width="1.05"/>
<text x="955.2" y="307.58" font-size="10.5" fill="#ff1010" text-anchor="middle" >H</text>
<path d="M960.3 307.3L962.4 308.8" stroke="#ff1010" stroke-width="1.0"/>
<text x="967.6" y="316.58" font-size="10.5" fill="#ff1010" text-anchor="middle" >Si</text>
<path d="M970.8 317.6L974.7 328.6" stroke="#ff1010" stroke-width="1.0"/>
<path d="M961.4 326.0L966.0 329.4" stroke="#ff1010" stroke-width="1.0"/>
<path d="M966.0 329.4L974.7 328.6L989.7 337.4L993.2 344.5L984.2 345.0L969.5 336.6Z" stroke="#ff1010" stroke-width="1.0" fill="none" stroke-linejoin="round" stroke-linecap="round"/>
<path d="M975.69 331.73L986.49 338.07" stroke="#ff1010" stroke-width="1.0"/>
<path d="M991.82 342.37L985.34 342.73" stroke="#ff1010" stroke-width="1.0"/>
<path d="M970.99 334.63L968.47 329.45" stroke="#ff1010" stroke-width="1.0"/>
<path d="M966.0 329.4L974.7 328.6" stroke="#ff1010" stroke-width="1.7" fill="none" stroke-linejoin="round" stroke-linecap="round"/>
<path d="M974.7 328.6L989.7 337.4" stroke="#ff1010" stroke-width="1.7" fill="none" stroke-linejoin="round" stroke-linecap="round"/>
<path d="M993.2 344.5L984.2 345.0" stroke="#ff1010" stroke-width="1.7" fill="none" stroke-linejoin="round" stroke-linecap="round"/>
<path d="M984.2 345.0L969.5 336.6" stroke="#ff1010" stroke-width="1.7" fill="none" stroke-linejoin="round" stroke-linecap="round"/>
<path d="M956.5 319.6L943.8 316.8" stroke="#000" stroke-width="1.0"/>
<path d="M943.80 316.80L950.71 316.12L948.63 317.87L949.78 320.32Z" fill="#000"/>
<path d="M973.9 307.3L975.8 302.2" stroke="#000" stroke-width="1.0"/>
<text x="981.0" y="300.78" font-size="10.5" fill="#000" text-anchor="middle" >Ph</text>
<path d="M974.7 313.3L981.8 314.9" stroke="#000" stroke-width="1.0"/>
<circle cx="548.1" cy="510.2" r="10.049999999999999" fill="url(#gY)"/>
<circle cx="549.4" cy="533.1" r="10.35" fill="url(#gC)"/>
<path d="M450.8 525.8L452.1 532.9L467.2 534.2L479.2 528.0L478.1 520.5L463.2 519.3Z" stroke="#686868" stroke-width="0.85" fill="none" stroke-linejoin="round" stroke-linecap="round"/>
<path d="M454.43 530.59L465.3 531.53" stroke="#686868" stroke-width="0.85"/>
<path d="M462.62 522.42L453.7 527.1" stroke="#686868" stroke-width="0.85"/>
<path d="M478.1 520.5L479.2 528.0L493.4 529.4L507.1 521.8L505.8 515.2L490.7 513.4Z" stroke="#686868" stroke-width="0.85" fill="none" stroke-linejoin="round" stroke-linecap="round"/>
<path d="M480.73 521.19L481.52 526.59" stroke="#686868" stroke-width="0.85"/>
<path d="M494.11 526.15L503.97 520.68" stroke="#686868" stroke-width="0.85"/>
<path d="M503.39 517.43L492.52 516.13" stroke="#686868" stroke-width="0.85"/>
<path d="M458.7 502.7L464.5 498.7L475.2 508.5L478.7 521.8L473.8 524.9L463.2 516.9Z" stroke="#000" stroke-width="1.0" fill="none" stroke-linejoin="round" stroke-linecap="round"/>
<path d="M464.31 501.92L472.01 508.97" stroke="#000" stroke-width="1.0"/>
<path d="M464.95 514.16L461.71 503.93" stroke="#000" stroke-width="1.0"/>
<path d="M473.8 524.9L463.2 516.9" stroke="#000" stroke-width="2.4" fill="none" stroke-linejoin="round" stroke-linecap="round"/>
<path d="M463.2 516.9L458.7 502.7" stroke="#000" stroke-width="2.4" fill="none" stroke-linejoin="round" stroke-linecap="round"/>
<path d="M473.8 524.9L478.7 521.8L488.5 530.7L492.9 545.8L488.0 548.9L477.4 538.7Z" stroke="#000" stroke-width="1.0" fill="none" stroke-linejoin="round" stroke-linecap="round"/>
<path d="M475.82 526.58L479.35 524.35" stroke="#000" stroke-width="1.0"/>
<path d="M486.72 533.51L489.88 544.39" stroke="#000" stroke-width="1.0"/>
<path d="M488.25 545.67L480.62 538.33" stroke="#000" stroke-width="1.0"/>
<path d="M488.0 548.9L477.4 538.7" stroke="#000" stroke-width="2.4" fill="none" stroke-linejoin="round" stroke-linecap="round"/>
<path d="M477.4 538.7L473.8 524.9" stroke="#000" stroke-width="2.4" fill="none" stroke-linejoin="round" stroke-linecap="round"/>
<path d="M505.8 515.2L520.3 508.6" stroke="#000" stroke-width="1.0"/>
<text x="524.3" y="510.68" font-size="10.5" fill="#000" text-anchor="middle" >P</text>
<text x="515.3" y="495.48" font-size="10.5" fill="#000" text-anchor="middle" >Ph</text>
<path d="M520.7 497.2L523.5 502.0" stroke="#000" stroke-width="1.0"/>
<path d="M543.4 510.06L543.2 510.94" stroke="#000" stroke-width="1.1"/>
<path d="M540.9 509.2L540.58 510.64" stroke="#000" stroke-width="1.1"/>
<path d="M538.41 508.34L537.95 510.34" stroke="#000" stroke-width="1.1"/>
<path d="M535.91 507.47L535.33 510.05" stroke="#000" stroke-width="1.1"/>
<path d="M533.42 506.61L532.7 509.75" stroke="#000" stroke-width="1.1"/>
<path d="M530.92 505.75L530.08 509.45" stroke="#000" stroke-width="1.1"/>
<text x="520.7" y="522.08" font-size="10.5" fill="#8c8c8c" text-anchor="middle" >Ph</text>
<path d="M507.1 521.8L516.1 526.2" stroke="#000" stroke-width="1.0"/>
<text x="520.3" y="532.08" font-size="10.5" fill="#000" text-anchor="middle" >O</text>
<path d="M525.6 527.8L531.6 527.4" stroke="#000" stroke-width="1.0"/>
<text x="536.7" y="530.68" font-size="10.5" fill="#000" text-anchor="middle" >P</text>
<path d="M544.3 515.65L538.2 521.87L540.8 523.73L544.7 515.95Z" fill="#000" stroke="none"/>
<text x="524.3" y="548.68" font-size="10.5" fill="#000" text-anchor="middle" >O</text>
<path d="M527.6 540.8L533.8 532.0" stroke="#000" stroke-width="1.0"/>
<path d="M538.3 531.2L540.3 538.4" stroke="#9a9a9a" stroke-width="1.0"/>
<text x="541.4" y="546.78" font-size="10.5" fill="#8c8c8c" text-anchor="middle" >N</text>
<path d="M537.6 547.2L531.6 553.7" stroke="#9a9a9a" stroke-width="1.0"/>
<path d="M543.9 548.7L546.1 558.7" stroke="#9a9a9a" stroke-width="1.0"/>
<path d="M492.9 545.8L509.6 550.8L519.6 547.0" stroke="#000" stroke-width="1.0" fill="none" stroke-linejoin="round" stroke-linecap="round"/>
<path d="M509.6 550.8L508.4 560.7" stroke="#000" stroke-width="1.0"/>
<text x="503.9" y="570.98" font-size="10.5" fill="#000" text-anchor="middle" >Ph</text>
<text x="551.0" y="514.38" font-size="10.5" fill="#000" text-anchor="middle" >Rh</text>
<path d="M558.8 508.65L558.4 507.95" stroke="#686868" stroke-width="1.05"/>
<path d="M561.08 507.73L560.37 506.47" stroke="#686868" stroke-width="1.05"/>
<path d="M563.37 506.81L562.33 504.99" stroke="#686868" stroke-width="1.05"/>
<path d="M565.65 505.9L564.3 503.5" stroke="#686868" stroke-width="1.05"/>
<path d="M567.94 504.98L566.26 502.02" stroke="#686868" stroke-width="1.05"/>
<text x="572.3" y="505.08" font-size="10.5" fill="#8c8c8c" text-anchor="middle" >Cl</text>
<path d="M558.6 464.5L570.0 468.3L574.7 484.5L568.1 495.0L556.7 491.2L551.9 475.0Z" stroke="#000" stroke-width="1.0" fill="none" stroke-linejoin="round" stroke-linecap="round"/>
<path d="M559.47 467.21L567.68 469.95" stroke="#000" stroke-width="1.0"/>
<path d="M571.83 484.75L567.08 492.31" stroke="#000" stroke-width="1.0"/>
<path d="M558.23 488.28L554.78 476.61" stroke="#000" stroke-width="1.0"/>
<path d="M568.1 495.0L574.2 510.2" stroke="#000" stroke-width="1.0"/>
<path d="M574.2 510.2L577.6 527.3" stroke="#ff1010" stroke-width="1.0"/>
<path d="M572.04 510.63L575.44 527.73" stroke="#ff1010" stroke-width="1.0"/>
<path d="M576.36 509.77L579.76 526.87" stroke="#ff1010" stroke-width="1.0"/>
<path d="M577.6 527.3L584.2 541.6" stroke="#ff1010" stroke-width="1.0"/>
<path d="M584.2 541.6L594.7 545.4L598.5 560.6L591.9 571.5L581.4 567.3L577.2 552.1Z" stroke="#ff1010" stroke-width="1.0" fill="none" stroke-linejoin="round" stroke-linecap="round"/>
<path d="M592.9 548.11L595.64 559.05" stroke="#ff1010" stroke-width="1.0"/>
<path d="M591.32 568.68L583.76 565.66" stroke="#ff1010" stroke-width="1.0"/>
<path d="M580.18 551.96L585.22 544.4" stroke="#ff1010" stroke-width="1.0"/>
<path d="M570.9 522.6L558.6 515.5" stroke="#000" stroke-width="1.0"/>
<path d="M558.60 515.50L565.39 516.94L562.89 517.97L563.24 520.66Z" fill="#000"/>
<path d="M548.7 518.8L548.7 526.6" stroke="#000" stroke-width="0.9" fill="none" stroke-dasharray="2.4 1.4"/>
<text x="549.1" y="537.18" font-size="10.5" fill="#ff1010" text-anchor="middle" font-weight="bold" >H</text>
<path d="M552.9 538.7L556.7 543.5" stroke="#ff1010" stroke-width="1.0"/>
<text x="560.8" y="552.98" font-size="10.5" fill="#ff1010" text-anchor="middle" font-weight="bold" >Si</text>
<path d="M567.1 550.2L577.2 552.1" stroke="#ff1010" stroke-width="1.0"/>
<text x="544.9" y="568.18" font-size="10.5" fill="#000" text-anchor="middle" >Ph</text>
<path d="M556.71 554.54L550.16 560.22L552.44 562.18L557.09 554.86Z" fill="#000" stroke="none"/>
<path d="M562.82 556.05L563.78 555.75" stroke="#444" stroke-width="1.05"/>
<path d="M563.24 558.52L564.81 558.03" stroke="#444" stroke-width="1.05"/>
<path d="M563.65 560.99L565.85 560.31" stroke="#444" stroke-width="1.05"/>
<path d="M564.06 563.46L566.89 562.59" stroke="#444" stroke-width="1.05"/>
<path d="M564.48 565.93L567.92 564.87" stroke="#444" stroke-width="1.05"/>
<circle cx="753.1" cy="510.6" r="10.049999999999999" fill="url(#gY)"/>
<circle cx="754.4" cy="533.5" r="10.35" fill="url(#gC)"/>
<path d="M655.8 526.2L657.1 533.3L672.2 534.6L684.2 528.4L683.1 520.9L668.2 519.7Z" stroke="#686868" stroke-width="0.85" fill="none" stroke-linejoin="round" stroke-linecap="round"/>
<path d="M659.43 530.99L670.3 531.93" stroke="#686868" stroke-width="0.85"/>
<path d="M667.62 522.82L658.7 527.5" stroke="#686868" stroke-width="0.85"/>
<path d="M683.1 520.9L684.2 528.4L698.4 529.8L712.1 522.2L710.8 515.6L695.7 513.8Z" stroke="#686868" stroke-width="0.85" fill="none" stroke-linejoin="round" stroke-linecap="round"/>
<path d="M685.73 521.59L686.52 526.99" stroke="#686868" stroke-width="0.85"/>
<path d="M699.11 526.55L708.97 521.08" stroke="#686868" stroke-width="0.85"/>
<path d="M708.39 517.83L697.52 516.53" stroke="#686868" stroke-width="0.85"/>
<path d="M663.7 503.1L669.5 499.1L680.2 508.9L683.7 522.2L678.8 525.3L668.2 517.3Z" stroke="#000" stroke-width="1.0" fill="none" stroke-linejoin="round" stroke-linecap="round"/>
<path d="M669.31 502.32L677.01 509.37" stroke="#000" stroke-width="1.0"/>
<path d="M669.95 514.56L666.71 504.33" stroke="#000" stroke-width="1.0"/>
<path d="M678.8 525.3L668.2 517.3" stroke="#000" stroke-width="2.4" fill="none" stroke-linejoin="round" stroke-linecap="round"/>
<path d="M668.2 517.3L663.7 503.1" stroke="#000" stroke-width="2.4" fill="none" stroke-linejoin="round" stroke-linecap="round"/>
<path d="M678.8 525.3L683.7 522.2L693.5 531.1L697.9 546.2L693.0 549.3L682.4 539.1Z" stroke="#000" stroke-width="1.0" fill="none" stroke-linejoin="round" stroke-linecap="round"/>
<path d="M680.82 526.98L684.35 524.75" stroke="#000" stroke-width="1.0"/>
<path d="M691.72 533.91L694.88 544.79" stroke="#000" stroke-width="1.0"/>
<path d="M693.25 546.07L685.62 538.73" stroke="#000" stroke-width="1.0"/>
<path d="M693.0 549.3L682.4 539.1" stroke="#000" stroke-width="2.4" fill="none" stroke-linejoin="round" stroke-linecap="round"/>
<path d="M682.4 539.1L678.8 525.3" stroke="#000" stroke-width="2.4" fill="none" stroke-linejoin="round" stroke-linecap="round"/>
<path d="M710.8 515.6L725.3 509.0" stroke="#000" stroke-width="1.0"/>
<text x="729.3" y="511.08" font-size="10.5" fill="#000" text-anchor="middle" >P</text>
<text x="720.3" y="495.88" font-size="10.5" fill="#000" text-anchor="middle" >Ph</text>
<path d="M725.7 497.6L728.5 502.4" stroke="#000" stroke-width="1.0"/>
<path d="M748.4 510.46L748.2 511.34" stroke="#000" stroke-width="1.1"/>
<path d="M745.9 509.6L745.58 511.04" stroke="#000" stroke-width="1.1"/>
<path d="M743.41 508.74L742.95 510.74" stroke="#000" stroke-width="1.1"/>
<path d="M740.91 507.87L740.33 510.45" stroke="#000" stroke-width="1.1"/>
<path d="M738.42 507.01L737.7 510.15" stroke="#000" stroke-width="1.1"/>
<path d="M735.92 506.15L735.08 509.85" stroke="#000" stroke-width="1.1"/>
<text x="725.7" y="522.48" font-size="10.5" fill="#8c8c8c" text-anchor="middle" >Ph</text>
<path d="M712.1 522.2L721.1 526.6" stroke="#000" stroke-width="1.0"/>
<text x="725.3" y="532.48" font-size="10.5" fill="#000" text-anchor="middle" >O</text>
<path d="M730.6 528.2L736.6 527.8" stroke="#000" stroke-width="1.0"/>
<text x="741.7" y="531.08" font-size="10.5" fill="#000" text-anchor="middle" >P</text>
<path d="M749.3 516.05L743.2 522.27L745.8 524.13L749.7 516.35Z" fill="#000" stroke="none"/>
<text x="729.3" y="549.08" font-size="10.5" fill="#000" text-anchor="middle" >O</text>
<path d="M732.6 541.2L738.8 532.4" stroke="#000" stroke-width="1.0"/>
<path d="M743.3 531.6L745.3 538.8" stroke="#9a9a9a" stroke-width="1.0"/>
<text x="746.4" y="547.18" font-size="10.5" fill="#8c8c8c" text-anchor="middle" >N</text>
<path d="M742.6 547.6L736.6 554.1" stroke="#9a9a9a" stroke-width="1.0"/>
<path d="M748.9 549.1L751.1 559.1" stroke="#9a9a9a" stroke-width="1.0"/>
<path d="M697.9 546.2L714.6 551.2L724.6 547.4" stroke="#000" stroke-width="1.0" fill="none" stroke-linejoin="round" stroke-linecap="round"/>
<path d="M714.6 551.2L713.4 561.1" stroke="#000" stroke-width="1.0"/>
<text x="708.9" y="571.38" font-size="10.5" fill="#000" text-anchor="middle" >Ph</text>
<text x="756.0" y="514.78" font-size="10.5" fill="#000" text-anchor="middle" >Rh</text>
<path d="M763.8 509.05L763.4 508.35" stroke="#686868" stroke-width="1.05"/>
<path d="M766.08 508.13L765.37 506.87" stroke="#686868" stroke-width="1.05"/>
<path d="M768.37 507.21L767.33 505.39" stroke="#686868" stroke-width="1.05"/>
<path d="M770.65 506.3L769.3 503.9" stroke="#686868" stroke-width="1.05"/>
<path d="M772.94 505.38L771.26 502.42" stroke="#686868" stroke-width="1.05"/>
<text x="777.3" y="505.48" font-size="10.5" fill="#8c8c8c" text-anchor="middle" >Cl</text>
<path d="M763.6 464.9L775.0 468.7L779.7 484.9L773.1 495.4L761.7 491.6L756.9 475.4Z" stroke="#000" stroke-width="1.0" fill="none" stroke-linejoin="round" stroke-linecap="round"/>
<path d="M764.47 467.61L772.68 470.35" stroke="#000" stroke-width="1.0"/>
<path d="M776.83 485.15L772.08 492.71" stroke="#000" stroke-width="1.0"/>
<path d="M763.23 488.68L759.78 477.01" stroke="#000" stroke-width="1.0"/>
<path d="M773.1 495.4L779.2 510.6" stroke="#000" stroke-width="1.0"/>
<path d="M779.2 510.6L782.6 527.7" stroke="#ff1010" stroke-width="1.0"/>
<path d="M777.04 511.03L780.44 528.13" stroke="#ff1010" stroke-width="1.0"/>
<path d="M781.36 510.17L784.76 527.27" stroke="#ff1010" stroke-width="1.0"/>
<path d="M782.6 527.7L789.2 542.0" stroke="#ff1010" stroke-width="1.0"/>
<path d="M789.2 542.0L799.7 545.8L803.5 561.0L796.9 571.9L786.4 567.7L782.2 552.5Z" stroke="#ff1010" stroke-width="1.0" fill="none" stroke-linejoin="round" stroke-linecap="round"/>
<path d="M797.71 548.56L800.45 559.5" stroke="#ff1010" stroke-width="1.0"/>
<path d="M796.4 568.9L788.84 565.87" stroke="#ff1010" stroke-width="1.0"/>
<path d="M785.34 552.47L790.38 544.91" stroke="#ff1010" stroke-width="1.0"/>
<path d="M789.2 542.0L799.7 545.8" stroke="#ff1010" stroke-width="1.9" fill="none" stroke-linejoin="round" stroke-linecap="round"/>
<path d="M799.7 545.8L803.5 561.0" stroke="#ff1010" stroke-width="1.9" fill="none" stroke-linejoin="round" stroke-linecap="round"/>
<path d="M803.5 561.0L796.9 571.9" stroke="#ff1010" stroke-width="1.9" fill="none" stroke-linejoin="round" stroke-linecap="round"/>
<path d="M796.9 571.9L786.4 567.7" stroke="#ff1010" stroke-width="1.9" fill="none" stroke-linejoin="round" stroke-linecap="round"/>
<path d="M786.4 567.7L782.2 552.5" stroke="#ff1010" stroke-width="1.9" fill="none" stroke-linejoin="round" stroke-linecap="round"/>
<path d="M782.2 552.5L789.2 542.0" stroke="#ff1010" stroke-width="1.9" fill="none" stroke-linejoin="round" stroke-linecap="round"/>
<path d="M775.9 523.0L763.6 515.9" stroke="#000" stroke-width="1.0"/>
<path d="M763.60 515.90L770.39 517.34L767.89 518.37L768.24 521.06Z" fill="#000"/>
<path d="M753.7 519.2L753.7 527.0" stroke="#000" stroke-width="0.9" fill="none" stroke-dasharray="2.4 1.4"/>
<text x="754.1" y="537.58" font-size="10.5" fill="#ff1010" text-anchor="middle" font-weight="bold" >H</text>
<path d="M757.9 539.1L761.7 543.9" stroke="#ff1010" stroke-width="1.0"/>
<text x="765.8" y="553.38" font-size="10.5" fill="#ff1010" text-anchor="middle" font-weight="bold" >Si</text>
<path d="M772.1 550.6L782.2 552.5" stroke="#ff1010" stroke-width="1.0"/>
<text x="749.9" y="568.58" font-size="10.5" fill="#000" text-anchor="middle" >Ph</text>
<path d="M761.71 554.94L755.16 560.62L757.44 562.58L762.09 555.26Z" fill="#000" stroke="none"/>
<path d="M767.82 556.45L768.78 556.15" stroke="#444" stroke-width="1.05"/>
<path d="M768.24 558.92L769.81 558.43" stroke="#444" stroke-width="1.05"/>
<path d="M768.65 561.39L770.85 560.71" stroke="#444" stroke-width="1.05"/>
<path d="M769.06 563.86L771.89 562.99" stroke="#444" stroke-width="1.05"/>
<path d="M769.48 566.33L772.92 565.27" stroke="#444" stroke-width="1.05"/>
<circle cx="335.0" cy="544.5" r="10.049999999999999" fill="url(#gY)"/>
<circle cx="340.1" cy="567.7" r="10.35" fill="url(#gC)"/>
<path d="M237.7 560.1L239.0 567.2L254.1 568.5L266.1 562.3L265.0 554.8L250.1 553.6Z" stroke="#686868" stroke-width="0.85" fill="none" stroke-linejoin="round" stroke-linecap="round"/>
<path d="M241.33 564.89L252.2 565.83" stroke="#686868" stroke-width="0.85"/>
<path d="M249.52 556.72L240.6 561.4" stroke="#686868" stroke-width="0.85"/>
<path d="M265.0 554.8L266.1 562.3L280.3 563.7L294.0 556.1L292.7 549.5L277.6 547.7Z" stroke="#686868" stroke-width="0.85" fill="none" stroke-linejoin="round" stroke-linecap="round"/>
<path d="M267.63 555.49L268.42 560.89" stroke="#686868" stroke-width="0.85"/>
<path d="M281.01 560.45L290.87 554.98" stroke="#686868" stroke-width="0.85"/>
<path d="M290.29 551.73L279.42 550.43" stroke="#686868" stroke-width="0.85"/>
<path d="M245.6 537.0L251.4 533.0L262.1 542.8L265.6 556.1L260.7 559.2L250.1 551.2Z" stroke="#000" stroke-width="1.0" fill="none" stroke-linejoin="round" stroke-linecap="round"/>
<path d="M251.21 536.22L258.91 543.27" stroke="#000" stroke-width="1.0"/>
<path d="M251.85 548.46L248.61 538.23" stroke="#000" stroke-width="1.0"/>
<path d="M260.7 559.2L250.1 551.2" stroke="#000" stroke-width="2.4" fill="none" stroke-linejoin="round" stroke-linecap="round"/>
<path d="M250.1 551.2L245.6 537.0" stroke="#000" stroke-width="2.4" fill="none" stroke-linejoin="round" stroke-linecap="round"/>
<path d="M260.7 559.2L265.6 556.1L275.4 565.0L279.8 580.1L274.9 583.2L264.3 573.0Z" stroke="#000" stroke-width="1.0" fill="none" stroke-linejoin="round" stroke-linecap="round"/>
<path d="M262.72 560.88L266.25 558.65" stroke="#000" stroke-width="1.0"/>
<path d="M273.62 567.81L276.78 578.69" stroke="#000" stroke-width="1.0"/>
<path d="M275.15 579.97L267.52 572.63" stroke="#000" stroke-width="1.0"/>
<path d="M274.9 583.2L264.3 573.0" stroke="#000" stroke-width="2.4" fill="none" stroke-linejoin="round" stroke-linecap="round"/>
<path d="M264.3 573.0L260.7 559.2" stroke="#000" stroke-width="2.4" fill="none" stroke-linejoin="round" stroke-linecap="round"/>
<path d="M292.7 549.5L307.2 542.9" stroke="#000" stroke-width="1.0"/>
<text x="311.2" y="544.98" font-size="10.5" fill="#000" text-anchor="middle" >P</text>
<text x="302.2" y="529.78" font-size="10.5" fill="#000" text-anchor="middle" >Ph</text>
<path d="M307.6 531.5L310.4 536.3" stroke="#000" stroke-width="1.0"/>
<path d="M330.3 544.36L330.1 545.24" stroke="#000" stroke-width="1.1"/>
<path d="M327.8 543.5L327.48 544.94" stroke="#000" stroke-width="1.1"/>
<path d="M325.31 542.64L324.85 544.64" stroke="#000" stroke-width="1.1"/>
<path d="M322.81 541.77L322.23 544.35" stroke="#000" stroke-width="1.1"/>
<path d="M320.32 540.91L319.6 544.05" stroke="#000" stroke-width="1.1"/>
<path d="M317.82 540.05L316.98 543.75" stroke="#000" stroke-width="1.1"/>
<text x="307.6" y="556.38" font-size="10.5" fill="#8c8c8c" text-anchor="middle" >Ph</text>
<path d="M294.0 556.1L303.0 560.5" stroke="#000" stroke-width="1.0"/>
<text x="307.2" y="566.38" font-size="10.5" fill="#000" text-anchor="middle" >O</text>
<path d="M312.5 562.1L318.5 561.7" stroke="#000" stroke-width="1.0"/>
<text x="323.6" y="564.98" font-size="10.5" fill="#000" text-anchor="middle" >P</text>
<path d="M331.2 549.95L325.1 556.17L327.7 558.03L331.6 550.25Z" fill="#000" stroke="none"/>
<text x="311.2" y="582.98" font-size="10.5" fill="#000" text-anchor="middle" >O</text>
<path d="M314.5 575.1L320.7 566.3" stroke="#000" stroke-width="1.0"/>
<path d="M325.2 565.5L327.2 572.7" stroke="#9a9a9a" stroke-width="1.0"/>
<text x="328.3" y="581.08" font-size="10.5" fill="#8c8c8c" text-anchor="middle" >N</text>
<path d="M324.5 581.5L318.5 588.0" stroke="#9a9a9a" stroke-width="1.0"/>
<path d="M330.8 583.0L333.0 593.0" stroke="#9a9a9a" stroke-width="1.0"/>
<path d="M279.8 580.1L296.5 585.1L306.5 581.3" stroke="#000" stroke-width="1.0" fill="none" stroke-linejoin="round" stroke-linecap="round"/>
<path d="M296.5 585.1L295.3 595.0" stroke="#000" stroke-width="1.0"/>
<text x="290.8" y="605.28" font-size="10.5" fill="#000" text-anchor="middle" >Ph</text>
<text x="337.3" y="548.68" font-size="10.5" fill="#000" text-anchor="middle" >Rh</text>
<path d="M348.41 542.98L348.19 542.22" stroke="#686868" stroke-width="1.05"/>
<path d="M350.75 542.74L350.32 541.2" stroke="#686868" stroke-width="1.05"/>
<path d="M353.09 542.49L352.44 540.18" stroke="#686868" stroke-width="1.05"/>
<path d="M355.44 542.24L354.56 539.16" stroke="#686868" stroke-width="1.05"/>
<text x="360.7" y="543.88" font-size="10.5" fill="#8c8c8c" text-anchor="middle" >Cl</text>
<path d="M305.5 486.1L318.3 483.6L329.7 494.1L327.0 506.4L315.0 509.3L304.2 497.9Z" stroke="#000" stroke-width="1.0" fill="none" stroke-linejoin="round" stroke-linecap="round"/>
<path d="M307.73 488.01L316.95 486.21" stroke="#000" stroke-width="1.0"/>
<path d="M327.08 495.33L325.13 504.18" stroke="#000" stroke-width="1.0"/>
<path d="M315.16 506.12L307.38 497.91" stroke="#000" stroke-width="1.0"/>
<path d="M327.0 506.4L336.0 515.4" stroke="#000" stroke-width="1.0"/>
<path d="M336.0 515.4L351.2 524.9" stroke="#ff1010" stroke-width="1.0"/>
<path d="M334.78 517.35L349.98 526.85" stroke="#ff1010" stroke-width="1.0"/>
<path d="M337.22 513.45L352.42 522.95" stroke="#ff1010" stroke-width="1.0"/>
<path d="M351.2 524.9L368.3 536.9" stroke="#ff1010" stroke-width="1.0"/>
<path d="M368.3 536.9L376.9 529.8L393.0 534.4L398.8 544.5L388.3 552.1L373.1 547.7Z" stroke="#ff1010" stroke-width="1.0" fill="none" stroke-linejoin="round" stroke-linecap="round"/>
<path d="M378.49 532.75L390.09 536.06" stroke="#ff1010" stroke-width="1.0"/>
<path d="M395.92 543.62L388.36 549.09" stroke="#ff1010" stroke-width="1.0"/>
<path d="M374.62 545.21L371.17 537.44" stroke="#ff1010" stroke-width="1.0"/>
<path d="M341.7 526.4L337.9 538.8" stroke="#000" stroke-width="1.0"/>
<path d="M337.90 538.80L337.78 531.86L339.35 534.07L341.89 533.12Z" fill="#000"/>
<path d="M344.78 551.42L356.66 559.88L358.34 556.92L345.02 550.98Z" fill="#000" stroke="none"/>
<text x="363.2" y="565.38" font-size="10.5" fill="#ff1010" text-anchor="middle" font-weight="bold" >Si</text>
<path d="M367.4 557.8L373.1 547.7" stroke="#ff1010" stroke-width="1.0"/>
<path d="M368.21 564.33L380.18 570.11L381.22 567.29L368.39 563.87Z" fill="#000" stroke="none"/>
<path d="M364.0 568.37L365.0 568.23" stroke="#333" stroke-width="1.05"/>
<path d="M364.03 570.78L365.62 570.57" stroke="#333" stroke-width="1.05"/>
<path d="M364.06 573.2L366.24 572.9" stroke="#333" stroke-width="1.05"/>
<path d="M364.09 575.61L366.86 575.24" stroke="#333" stroke-width="1.05"/>
<path d="M364.12 578.03L367.48 577.57" stroke="#333" stroke-width="1.05"/>
<text x="370.2" y="586.88" font-size="10.5" fill="#000" text-anchor="middle" >Ph</text>
<path d="M336.61 553.54L337.99 553.26" stroke="#000" stroke-width="1.05"/>
<path d="M336.72 556.33L338.98 555.87" stroke="#000" stroke-width="1.05"/>
<path d="M336.83 559.12L339.97 558.48" stroke="#000" stroke-width="1.05"/>
<text x="339.2" y="571.08" font-size="10.5" fill="#ff1010" text-anchor="middle" font-weight="bold" >H</text>
<circle cx="1002.7" cy="542.6" r="10.049999999999999" fill="url(#gY)"/>
<circle cx="1007.8" cy="565.4" r="10.35" fill="url(#gC)"/>
<path d="M905.4 558.2L906.7 565.3L921.8 566.6L933.8 560.4L932.7 552.9L917.8 551.7Z" stroke="#686868" stroke-width="0.85" fill="none" stroke-linejoin="round" stroke-linecap="round"/>
<path d="M909.03 562.99L919.9 563.93" stroke="#686868" stroke-width="0.85"/>
<path d="M917.22 554.82L908.3 559.5" stroke="#686868" stroke-width="0.85"/>
<path d="M932.7 552.9L933.8 560.4L948.0 561.8L961.7 554.2L960.4 547.6L945.3 545.8Z" stroke="#686868" stroke-width="0.85" fill="none" stroke-linejoin="round" stroke-linecap="round"/>
<path d="M935.33 553.59L936.12 558.99" stroke="#686868" stroke-width="0.85"/>
<path d="M948.71 558.55L958.57 553.08" stroke="#686868" stroke-width="0.85"/>
<path d="M957.99 549.83L947.12 548.53" stroke="#686868" stroke-width="0.85"/>
<path d="M913.3 535.1L919.1 531.1L929.8 540.9L933.3 554.2L928.4 557.3L917.8 549.3Z" stroke="#000" stroke-width="1.0" fill="none" stroke-linejoin="round" stroke-linecap="round"/>
<path d="M918.91 534.32L926.61 541.37" stroke="#000" stroke-width="1.0"/>
<path d="M919.55 546.56L916.31 536.33" stroke="#000" stroke-width="1.0"/>
<path d="M928.4 557.3L917.8 549.3" stroke="#000" stroke-width="2.4" fill="none" stroke-linejoin="round" stroke-linecap="round"/>
<path d="M917.8 549.3L913.3 535.1" stroke="#000" stroke-width="2.4" fill="none" stroke-linejoin="round" stroke-linecap="round"/>
<path d="M928.4 557.3L933.3 554.2L943.1 563.1L947.5 578.2L942.6 581.3L932.0 571.1Z" stroke="#000" stroke-width="1.0" fill="none" stroke-linejoin="round" stroke-linecap="round"/>
<path d="M930.42 558.98L933.95 556.75" stroke="#000" stroke-width="1.0"/>
<path d="M941.32 565.91L944.48 576.79" stroke="#000" stroke-width="1.0"/>
<path d="M942.85 578.07L935.22 570.73" stroke="#000" stroke-width="1.0"/>
<path d="M942.6 581.3L932.0 571.1" stroke="#000" stroke-width="2.4" fill="none" stroke-linejoin="round" stroke-linecap="round"/>
<path d="M932.0 571.1L928.4 557.3" stroke="#000" stroke-width="2.4" fill="none" stroke-linejoin="round" stroke-linecap="round"/>
<path d="M960.4 547.6L974.9 541.0" stroke="#000" stroke-width="1.0"/>
<text x="978.9" y="543.08" font-size="10.5" fill="#000" text-anchor="middle" >P</text>
<text x="969.9" y="527.88" font-size="10.5" fill="#000" text-anchor="middle" >Ph</text>
<path d="M975.3 529.6L978.1 534.4" stroke="#000" stroke-width="1.0"/>
<path d="M998.0 542.46L997.8 543.34" stroke="#000" stroke-width="1.1"/>
<path d="M995.5 541.6L995.18 543.04" stroke="#000" stroke-width="1.1"/>
<path d="M993.01 540.74L992.55 542.74" stroke="#000" stroke-width="1.1"/>
<path d="M990.51 539.87L989.93 542.45" stroke="#000" stroke-width="1.1"/>
<path d="M988.02 539.01L987.3 542.15" stroke="#000" stroke-width="1.1"/>
<path d="M985.52 538.15L984.68 541.85" stroke="#000" stroke-width="1.1"/>
<text x="975.3" y="554.48" font-size="10.5" fill="#8c8c8c" text-anchor="middle" >Ph</text>
<path d="M961.7 554.2L970.7 558.6" stroke="#000" stroke-width="1.0"/>
<text x="974.9" y="564.48" font-size="10.5" fill="#000" text-anchor="middle" >O</text>
<path d="M980.2 560.2L986.2 559.8" stroke="#000" stroke-width="1.0"/>
<text x="991.3" y="563.08" font-size="10.5" fill="#000" text-anchor="middle" >P</text>
<path d="M998.9 548.05L992.8 554.27L995.4 556.13L999.3 548.35Z" fill="#000" stroke="none"/>
<text x="978.9" y="581.08" font-size="10.5" fill="#000" text-anchor="middle" >O</text>
<path d="M982.2 573.2L988.4 564.4" stroke="#000" stroke-width="1.0"/>
<path d="M992.9 563.6L994.9 570.8" stroke="#9a9a9a" stroke-width="1.0"/>
<text x="996.0" y="579.18" font-size="10.5" fill="#8c8c8c" text-anchor="middle" >N</text>
<path d="M992.2 579.6L986.2 586.1" stroke="#9a9a9a" stroke-width="1.0"/>
<path d="M998.5 581.1L1000.7 591.1" stroke="#9a9a9a" stroke-width="1.0"/>
<path d="M947.5 578.2L964.2 583.2L974.2 579.4" stroke="#000" stroke-width="1.0" fill="none" stroke-linejoin="round" stroke-linecap="round"/>
<path d="M964.2 583.2L963.0 593.1" stroke="#000" stroke-width="1.0"/>
<text x="958.5" y="603.38" font-size="10.5" fill="#000" text-anchor="middle" >Ph</text>
<text x="1005.4" y="546.78" font-size="10.5" fill="#000" text-anchor="middle" >Rh</text>
<path d="M1015.59 541.69L1015.41 540.91" stroke="#686868" stroke-width="1.05"/>
<path d="M1017.92 541.54L1017.55 539.99" stroke="#686868" stroke-width="1.05"/>
<path d="M1020.25 541.4L1019.69 539.07" stroke="#686868" stroke-width="1.05"/>
<path d="M1022.57 541.26L1021.83 538.14" stroke="#686868" stroke-width="1.05"/>
<text x="1028.8" y="542.58" font-size="10.5" fill="#8c8c8c" text-anchor="middle" >Cl</text>
<path d="M982.1 488.4L994.5 487.4L1004.0 500.7L1000.2 512.2L987.9 511.2L980.2 498.8Z" stroke="#000" stroke-width="1.0" fill="none" stroke-linejoin="round" stroke-linecap="round"/>
<path d="M984.02 490.55L992.95 489.83" stroke="#000" stroke-width="1.0"/>
<path d="M1001.28 501.59L998.55 509.87" stroke="#000" stroke-width="1.0"/>
<path d="M988.78 508.25L983.23 499.32" stroke="#000" stroke-width="1.0"/>
<path d="M1000.2 512.2L1005.9 518.8" stroke="#000" stroke-width="1.0"/>
<path d="M1005.9 518.8L1020.2 529.3" stroke="#ff1010" stroke-width="1.0"/>
<path d="M1004.54 520.65L1018.84 531.15" stroke="#ff1010" stroke-width="1.0"/>
<path d="M1007.26 516.95L1021.56 527.45" stroke="#ff1010" stroke-width="1.0"/>
<path d="M1020.2 529.3L1033.5 537.8" stroke="#ff1010" stroke-width="1.0"/>
<path d="M1033.5 537.8L1044.9 535.9L1058.3 547.4L1057.3 558.8L1044.9 560.3L1033.5 550.2Z" stroke="#ff1010" stroke-width="1.0" fill="none" stroke-linejoin="round" stroke-linecap="round"/>
<path d="M1045.08 539.48L1054.73 547.76" stroke="#ff1010" stroke-width="1.0"/>
<path d="M1055.25 556.43L1046.32 557.51" stroke="#ff1010" stroke-width="1.0"/>
<path d="M1036.1 548.46L1036.1 539.54" stroke="#ff1010" stroke-width="1.0"/>
<path d="M1033.5 537.8L1044.9 535.9" stroke="#ff1010" stroke-width="1.9" fill="none" stroke-linejoin="round" stroke-linecap="round"/>
<path d="M1044.9 535.9L1058.3 547.4" stroke="#ff1010" stroke-width="1.9" fill="none" stroke-linejoin="round" stroke-linecap="round"/>
<path d="M1058.3 547.4L1057.3 558.8" stroke="#ff1010" stroke-width="1.9" fill="none" stroke-linejoin="round" stroke-linecap="round"/>
<path d="M1057.3 558.8L1044.9 560.3" stroke="#ff1010" stroke-width="1.9" fill="none" stroke-linejoin="round" stroke-linecap="round"/>
<path d="M1044.9 560.3L1033.5 550.2" stroke="#ff1010" stroke-width="1.9" fill="none" stroke-linejoin="round" stroke-linecap="round"/>
<path d="M1033.5 550.2L1033.5 537.8" stroke="#ff1010" stroke-width="1.9" fill="none" stroke-linejoin="round" stroke-linecap="round"/>
<path d="M1011.6 530.2L1005.4 539.7" stroke="#000" stroke-width="1.0"/>
<path d="M1005.40 539.70L1007.21 533.00L1008.11 535.55L1010.81 535.35Z" fill="#000"/>
<path d="M1012.48 551.42L1020.38 557.39L1022.02 554.41L1012.72 550.98Z" fill="#000" stroke="none"/>
<text x="1026.3" y="563.48" font-size="10.5" fill="#ff1010" text-anchor="middle" font-weight="bold" >Si</text>
<path d="M1029.7 555.0L1033.5 550.2" stroke="#ff1010" stroke-width="1.0"/>
<path d="M1029.39 563.89L1030.01 563.11" stroke="#222" stroke-width="1.05"/>
<path d="M1031.3 565.7L1032.19 564.59" stroke="#222" stroke-width="1.05"/>
<path d="M1033.2 567.51L1034.37 566.06" stroke="#222" stroke-width="1.05"/>
<path d="M1035.11 569.32L1036.54 567.54" stroke="#222" stroke-width="1.05"/>
<path d="M1037.02 571.13L1038.72 569.01" stroke="#222" stroke-width="1.05"/>
<path d="M1038.93 572.94L1040.9 570.49" stroke="#222" stroke-width="1.05"/>
<path d="M1040.84 574.75L1043.08 571.97" stroke="#222" stroke-width="1.05"/>
<path d="M1042.75 576.56L1045.25 573.44" stroke="#222" stroke-width="1.05"/>
<path d="M1026.05 566.42L1025.91 577.94L1028.89 577.66L1026.55 566.38Z" fill="#000" stroke="none"/>
<text x="1030.7" y="587.68" font-size="10.5" fill="#000" text-anchor="middle" >Ph</text>
<path d="M1004.31 551.64L1005.69 551.36" stroke="#000" stroke-width="1.05"/>
<path d="M1004.42 554.43L1006.68 553.97" stroke="#000" stroke-width="1.05"/>
<path d="M1004.53 557.22L1007.67 556.58" stroke="#000" stroke-width="1.05"/>
<text x="1007.3" y="569.18" font-size="10.5" fill="#ff1010" text-anchor="middle" font-weight="bold" >H</text>
<path d="M70.2 386.9L74.5 381.2L87.8 384.5L97.8 395.5L94.5 401.6L80.7 397.4Z" stroke="#8a8a8a" stroke-width="0.7" fill="none" stroke-linejoin="round" stroke-linecap="round"/>
<path d="M75.83 383.8L85.41 386.17" stroke="#8a8a8a" stroke-width="0.7"/>
<path d="M80.79 394.37L73.23 386.81" stroke="#8a8a8a" stroke-width="0.7"/>
<path d="M94.5 401.6L97.8 395.5L111.6 398.8L122.3 410.0L119.1 416.1L105.7 411.9Z" stroke="#8a8a8a" stroke-width="0.7" fill="none" stroke-linejoin="round" stroke-linecap="round"/>
<path d="M96.9 401.79L99.27 397.4" stroke="#8a8a8a" stroke-width="0.7"/>
<path d="M111.51 401.89L119.21 409.95" stroke="#8a8a8a" stroke-width="0.7"/>
<path d="M117.88 413.41L108.23 410.39" stroke="#8a8a8a" stroke-width="0.7"/>
<path d="M123.2 387.8L135.4 379.3L141.1 382.1L136.8 395.9L124.0 405.4L118.8 400.7Z" stroke="#000" stroke-width="1.0" fill="none" stroke-linejoin="round" stroke-linecap="round"/>
<path d="M126.34 388.66L135.12 382.54" stroke="#000" stroke-width="1.0"/>
<path d="M138.11 383.29L135.02 393.22" stroke="#000" stroke-width="1.0"/>
<path d="M135.4 379.3L141.1 382.1" stroke="#000" stroke-width="2.4" fill="none" stroke-linejoin="round" stroke-linecap="round"/>
<path d="M141.1 382.1L136.8 395.9" stroke="#000" stroke-width="2.4" fill="none" stroke-linejoin="round" stroke-linecap="round"/>
<path d="M136.8 395.9L124.0 405.4" stroke="#000" stroke-width="2.4" fill="none" stroke-linejoin="round" stroke-linecap="round"/>
<path d="M118.8 400.7L124.0 405.4L119.7 416.9L106.9 427.3L101.6 424.0L105.9 411.6Z" stroke="#000" stroke-width="1.0" fill="none" stroke-linejoin="round" stroke-linecap="round"/>
<path d="M117.85 403.21L121.6 406.6" stroke="#000" stroke-width="1.0"/>
<path d="M116.33 416.42L107.12 423.9" stroke="#000" stroke-width="1.0"/>
<path d="M109.32 411.98L118.61 404.14" stroke="#000" stroke-width="1.0"/>
<path d="M124.0 405.4L119.7 416.9" stroke="#000" stroke-width="2.4" fill="none" stroke-linejoin="round" stroke-linecap="round"/>
<path d="M119.7 416.9L106.9 427.3" stroke="#000" stroke-width="2.4" fill="none" stroke-linejoin="round" stroke-linecap="round"/>
<path d="M106.9 427.3L101.6 424.0" stroke="#000" stroke-width="2.4" fill="none" stroke-linejoin="round" stroke-linecap="round"/>
<path d="M122.3 410.0L130.8 408.3" stroke="#555" stroke-width="0.8"/>
<text x="137.6" y="411.48" font-size="10.5" fill="#000" text-anchor="middle" >P</text>
<path d="M119.1 416.1L129.5 421.6" stroke="#000" stroke-width="1.0"/>
<text x="133.6" y="428.08" font-size="10.5" fill="#000" text-anchor="middle" >O</text>
<path d="M101.6 424.0L96.6 432.1L101.0 439.1" stroke="#000" stroke-width="1.0" fill="none" stroke-linejoin="round" stroke-linecap="round"/>
<path d="M84.8 430.9L96.6 432.1" stroke="#000" stroke-width="1.0"/>
<text x="77.4" y="434.18" font-size="10.5" fill="#000" text-anchor="middle" >Ph</text>
<text x="104.5" y="447.18" font-size="10.5" fill="#000" text-anchor="middle" >O</text>
<path d="M110.6 443.1L120.2 443.1" stroke="#000" stroke-width="1.0"/>
<text x="124.9" y="446.38" font-size="10.5" fill="#000" text-anchor="middle" >P</text>
<path d="M128.0 437.3L131.5 430.4" stroke="#000" stroke-width="1.0"/>
<path d="M128.0 446.9L133.2 452.2" stroke="#000" stroke-width="1.0"/>
<text x="136.7" y="459.78" font-size="10.5" fill="#000" text-anchor="middle" >N</text>
<path d="M132.4 460.9L124.9 466.1" stroke="#000" stroke-width="1.0"/>
<path d="M138.5 462.6L140.2 471.3" stroke="#000" stroke-width="1.0"/>
<path d="M141.10000000000002 452.2L146.3 447.5" stroke="#000" stroke-width="0.9" fill="none" stroke-dasharray="2.2 1.6"/>
<circle cx="157.3" cy="417.3" r="10.049999999999999" fill="url(#gY)"/>
<circle cx="152.0" cy="440.8" r="9.35" fill="url(#gC)"/>
<circle cx="171.0" cy="433.9" r="10.45" fill="url(#gG)"/>
<circle cx="194.8" cy="381.0" r="10.35" fill="url(#gG)"/>
<path d="M150.18 412.19L149.42 413.61" stroke="#000" stroke-width="1.1"/>
<path d="M148.21 410.74L147.12 412.8" stroke="#000" stroke-width="1.1"/>
<path d="M146.25 409.28L144.81 411.99" stroke="#000" stroke-width="1.1"/>
<path d="M144.29 407.82L142.51 411.18" stroke="#000" stroke-width="1.1"/>
<path d="M148.24 420.06L138.42 420.84L139.18 424.16L148.36 420.54Z" fill="#000" stroke="none"/>
<text x="157.6" y="421.08" font-size="10.5" fill="#000" text-anchor="middle" >Rh</text>
<text x="151.9" y="444.58" font-size="10.5" fill="#ff1010" text-anchor="middle" font-weight="bold" >H</text>
<text x="171.2" y="437.68" font-size="10.5" fill="#444" text-anchor="middle" >Cl</text>
<text x="193.9" y="384.78" font-size="10.5" fill="#111" text-anchor="middle" >Cl</text>
<path d="M199.1 377.1L201.3 377.1" stroke="#000" stroke-width="0.7"/>
<path d="M158.2 439.1L164.3 436.8" stroke="#000" stroke-width="1.0"/>
<path d="M168.24 413.69L167.36 412.11" stroke="#000" stroke-width="1.1"/>
<path d="M170.12 412.98L168.95 410.89" stroke="#000" stroke-width="1.1"/>
<path d="M172.0 412.28L170.54 409.66" stroke="#000" stroke-width="1.1"/>
<path d="M173.88 411.57L172.12 408.43" stroke="#000" stroke-width="1.1"/>
<text x="177.3" y="410.58" font-size="10.5" fill="#000" text-anchor="middle" >Si</text>
<path d="M190.4 388.5L184.8 399.9" stroke="#ff1010" stroke-width="1.0"/>
<path d="M184.80 399.90L185.87 393.18L186.95 395.52L189.46 394.95Z" fill="#ff1010"/>
<path d="M186.1 403.4L196.0 398.1" stroke="#000" stroke-width="1.0"/>
<path d="M196.0 398.1L206.3 386.3L215.7 378.1L216.6 391.1L207.0 403.4L197.2 406.8Z" stroke="#000" stroke-width="1.0" fill="none" stroke-linejoin="round" stroke-linecap="round"/>
<path d="M199.17 397.96L206.59 389.46" stroke="#000" stroke-width="1.0"/>
<path d="M213.53 380.08L214.18 389.44" stroke="#000" stroke-width="1.0"/>
<path d="M204.87 401.7L197.82 404.15" stroke="#000" stroke-width="1.0"/>
<path d="M215.7 378.1L216.6 391.1" stroke="#000" stroke-width="1.9" fill="none" stroke-linejoin="round" stroke-linecap="round"/>
<path d="M216.6 391.1L207.0 403.4" stroke="#000" stroke-width="1.9" fill="none" stroke-linejoin="round" stroke-linecap="round"/>
<path d="M207.0 403.4L197.2 406.8" stroke="#000" stroke-width="1.9" fill="none" stroke-linejoin="round" stroke-linecap="round"/>
<path d="M197.0 406.8L190.4 419.9" stroke="#000" stroke-width="1.0"/>
<path d="M190.4 419.9L178.2 433.9" stroke="#000" stroke-width="1.0"/>
<path d="M188.74 418.45L176.54 432.45" stroke="#000" stroke-width="1.0"/>
<path d="M192.06 421.35L179.86 435.35" stroke="#000" stroke-width="1.0"/>
<path d="M173.9 441.7L177.3 450.4L172.1 465.2L163.4 470.5L161.7 461.8L166.0 447.8Z" stroke="#000" stroke-width="1.0" fill="none" stroke-linejoin="round" stroke-linecap="round"/>
<path d="M172.33 443.72L174.77 449.98" stroke="#000" stroke-width="1.0"/>
<path d="M169.74 464.06L163.47 467.88" stroke="#000" stroke-width="1.0"/>
<path d="M164.41 460.49L167.5 450.41" stroke="#000" stroke-width="1.0"/>
<path d="M163.4 470.5L161.7 461.8" stroke="#000" stroke-width="1.9" fill="none" stroke-linejoin="round" stroke-linecap="round"/>
<path d="M161.7 461.8L166.0 447.8" stroke="#000" stroke-width="1.9" fill="none" stroke-linejoin="round" stroke-linecap="round"/>
<path d="M166.0 447.8L173.9 441.7" stroke="#000" stroke-width="1.9" fill="none" stroke-linejoin="round" stroke-linecap="round"/>
<path d="M178.2 433.9L173.9 441.7" stroke="#000" stroke-width="1.0"/>
<path d="M180.8 424.3L166.0 420.4" stroke="#000" stroke-width="1.0"/>
<path d="M166.00 420.40L172.93 420.00L170.79 421.66L171.83 424.16Z" fill="#000"/>
<path d="M183.5 469.6L162.5 441.7" stroke="#ff1010" stroke-width="1.0"/>
<path d="M162.50 441.70L168.01 445.69L165.43 445.59L164.81 448.10Z" fill="#ff1010"/>
<path d="M189.0 461.4L189.20000000000002 445.4Q190.9 442.9 192.6 445.4L192.8 461.4Z" fill="#d4d4d4" stroke="#9a9a9a" stroke-width="0.5"/>
<path d="M190.9 444.9L190.9 460.9" stroke="#f4f4f4" stroke-width="0.9"/>
<circle cx="190.9" cy="457.9" r="1.1" fill="#777"/>
<path d="M188.9 461.09999999999997L192.9 461.09999999999997L196.5 469.4L192.4 471.4L191.1 466.9L189.9 471.9L185.4 470.4Z" fill="#2e3234"/>
<circle cx="187.0" cy="474.4" r="3.3" fill="#fff" stroke="#2e3234" stroke-width="1.7"/>
<circle cx="195.3" cy="472.2" r="3.1" fill="#fff" stroke="#2e3234" stroke-width="1.7"/>
<path d="M187.4 477.4L183.70000000000002 481.09999999999997" stroke="#2e3234" stroke-width="1.8" stroke-linecap="round"/>
<text x="179.6" y="394.58" font-size="10.5" fill="#000" text-anchor="middle" >Ph</text>
<path d="M177.9 396.7L177.9 401.1" stroke="#000" stroke-width="1.0"/>
<path d="M184.3 410.7L192.2 414.7" stroke="#686868" stroke-width="0.8"/>
<path d="M1053.6 385.7L1057.9 380.0L1071.2 383.3L1081.2 394.3L1077.9 400.4L1064.1 396.2Z" stroke="#8a8a8a" stroke-width="0.7" fill="none" stroke-linejoin="round" stroke-linecap="round"/>
<path d="M1059.23 382.6L1068.81 384.97" stroke="#8a8a8a" stroke-width="0.7"/>
<path d="M1064.19 393.17L1056.63 385.61" stroke="#8a8a8a" stroke-width="0.7"/>
<path d="M1077.9 400.4L1081.2 394.3L1095.0 397.6L1105.7 408.8L1102.5 414.9L1089.1 410.7Z" stroke="#8a8a8a" stroke-width="0.7" fill="none" stroke-linejoin="round" stroke-linecap="round"/>
<path d="M1080.3 400.59L1082.67 396.2" stroke="#8a8a8a" stroke-width="0.7"/>
<path d="M1094.91 400.69L1102.61 408.75" stroke="#8a8a8a" stroke-width="0.7"/>
<path d="M1101.28 412.21L1091.63 409.19" stroke="#8a8a8a" stroke-width="0.7"/>
<path d="M1106.6 386.6L1118.8 378.1L1124.5 380.9L1120.2 394.7L1107.4 404.2L1102.2 399.5Z" stroke="#000" stroke-width="1.0" fill="none" stroke-linejoin="round" stroke-linecap="round"/>
<path d="M1109.74 387.46L1118.52 381.34" stroke="#000" stroke-width="1.0"/>
<path d="M1121.51 382.09L1118.42 392.02" stroke="#000" stroke-width="1.0"/>
<path d="M1118.8 378.1L1124.5 380.9" stroke="#000" stroke-width="2.4" fill="none" stroke-linejoin="round" stroke-linecap="round"/>
<path d="M1124.5 380.9L1120.2 394.7" stroke="#000" stroke-width="2.4" fill="none" stroke-linejoin="round" stroke-linecap="round"/>
<path d="M1120.2 394.7L1107.4 404.2" stroke="#000" stroke-width="2.4" fill="none" stroke-linejoin="round" stroke-linecap="round"/>
<path d="M1102.2 399.5L1107.4 404.2L1103.1 415.7L1090.3 426.1L1085.0 422.8L1089.3 410.4Z" stroke="#000" stroke-width="1.0" fill="none" stroke-linejoin="round" stroke-linecap="round"/>
<path d="M1101.25 402.01L1105.0 405.4" stroke="#000" stroke-width="1.0"/>
<path d="M1099.73 415.22L1090.52 422.7" stroke="#000" stroke-width="1.0"/>
<path d="M1092.72 410.78L1102.01 402.94" stroke="#000" stroke-width="1.0"/>
<path d="M1107.4 404.2L1103.1 415.7" stroke="#000" stroke-width="2.4" fill="none" stroke-linejoin="round" stroke-linecap="round"/>
<path d="M1103.1 415.7L1090.3 426.1" stroke="#000" stroke-width="2.4" fill="none" stroke-linejoin="round" stroke-linecap="round"/>
<path d="M1090.3 426.1L1085.0 422.8" stroke="#000" stroke-width="2.4" fill="none" stroke-linejoin="round" stroke-linecap="round"/>
<path d="M1105.7 408.8L1114.2 407.1" stroke="#555" stroke-width="0.8"/>
<text x="1121.0" y="410.28" font-size="10.5" fill="#000" text-anchor="middle" >P</text>
<path d="M1102.5 414.9L1112.9 420.4" stroke="#000" stroke-width="1.0"/>
<text x="1117.0" y="426.88" font-size="10.5" fill="#000" text-anchor="middle" >O</text>
<path d="M1085.0 422.8L1080.0 430.9L1084.4 437.9" stroke="#000" stroke-width="1.0" fill="none" stroke-linejoin="round" stroke-linecap="round"/>
<path d="M1068.2 429.7L1080.0 430.9" stroke="#000" stroke-width="1.0"/>
<text x="1060.8" y="432.98" font-size="10.5" fill="#000" text-anchor="middle" >Ph</text>
<text x="1087.9" y="445.98" font-size="10.5" fill="#000" text-anchor="middle" >O</text>
<path d="M1094.0 441.9L1103.6 441.9" stroke="#000" stroke-width="1.0"/>
<text x="1108.3" y="445.18" font-size="10.5" fill="#000" text-anchor="middle" >P</text>
<path d="M1111.4 436.1L1114.9 429.2" stroke="#000" stroke-width="1.0"/>
<path d="M1111.4 445.7L1116.6 451.0" stroke="#000" stroke-width="1.0"/>
<text x="1120.1" y="458.58" font-size="10.5" fill="#000" text-anchor="middle" >N</text>
<path d="M1115.8 459.7L1108.3 464.9" stroke="#000" stroke-width="1.0"/>
<path d="M1121.9 461.4L1123.6 470.1" stroke="#000" stroke-width="1.0"/>
<path d="M1124.5 451.0L1129.7 446.3" stroke="#000" stroke-width="0.9" fill="none" stroke-dasharray="2.2 1.6"/>
<circle cx="1140.7" cy="416.1" r="10.049999999999999" fill="url(#gY)"/>
<circle cx="1135.4" cy="439.6" r="9.35" fill="url(#gC)"/>
<circle cx="1154.4" cy="432.7" r="10.45" fill="url(#gG)"/>
<circle cx="1178.2" cy="379.8" r="10.35" fill="url(#gG)"/>
<path d="M1133.58 410.99L1132.82 412.41" stroke="#000" stroke-width="1.1"/>
<path d="M1131.61 409.54L1130.52 411.6" stroke="#000" stroke-width="1.1"/>
<path d="M1129.65 408.08L1128.21 410.79" stroke="#000" stroke-width="1.1"/>
<path d="M1127.69 406.62L1125.91 409.98" stroke="#000" stroke-width="1.1"/>
<path d="M1131.64 418.86L1121.82 419.64L1122.58 422.96L1131.76 419.34Z" fill="#000" stroke="none"/>
<text x="1141.0" y="419.88" font-size="10.5" fill="#000" text-anchor="middle" >Rh</text>
<text x="1135.3" y="443.38" font-size="10.5" fill="#ff1010" text-anchor="middle" font-weight="bold" >H</text>
<text x="1154.6" y="436.48" font-size="10.5" fill="#444" text-anchor="middle" >Cl</text>
<text x="1177.3" y="383.58" font-size="10.5" fill="#111" text-anchor="middle" >Cl</text>
<path d="M1182.5 375.9L1184.7 375.9" stroke="#000" stroke-width="0.7"/>
<path d="M1141.6 437.9L1147.7 435.6" stroke="#000" stroke-width="1.0"/>
<path d="M1151.64 412.49L1150.76 410.91" stroke="#000" stroke-width="1.1"/>
<path d="M1153.52 411.78L1152.35 409.69" stroke="#000" stroke-width="1.1"/>
<path d="M1155.4 411.08L1153.94 408.46" stroke="#000" stroke-width="1.1"/>
<path d="M1157.28 410.37L1155.52 407.23" stroke="#000" stroke-width="1.1"/>
<text x="1160.7" y="409.38" font-size="10.5" fill="#000" text-anchor="middle" >Si</text>
<path d="M1173.8 387.3L1168.2 398.7" stroke="#ff1010" stroke-width="1.0"/>
<path d="M1168.20 398.70L1169.27 391.98L1170.35 394.32L1172.86 393.75Z" fill="#ff1010"/>
<path d="M1169.5 402.2L1179.4 396.9" stroke="#000" stroke-width="1.0"/>
<path d="M1179.4 396.9L1189.7 385.1L1199.1 376.9L1200.0 389.9L1190.4 402.2L1180.6 405.6Z" stroke="#000" stroke-width="1.0" fill="none" stroke-linejoin="round" stroke-linecap="round"/>
<path d="M1182.57 396.76L1189.99 388.26" stroke="#000" stroke-width="1.0"/>
<path d="M1196.93 378.88L1197.58 388.24" stroke="#000" stroke-width="1.0"/>
<path d="M1188.27 400.5L1181.22 402.95" stroke="#000" stroke-width="1.0"/>
<path d="M1199.1 376.9L1200.0 389.9" stroke="#000" stroke-width="1.9" fill="none" stroke-linejoin="round" stroke-linecap="round"/>
<path d="M1200.0 389.9L1190.4 402.2" stroke="#000" stroke-width="1.9" fill="none" stroke-linejoin="round" stroke-linecap="round"/>
<path d="M1190.4 402.2L1180.6 405.6" stroke="#000" stroke-width="1.9" fill="none" stroke-linejoin="round" stroke-linecap="round"/>
<path d="M1180.4 405.6L1173.8 418.7" stroke="#000" stroke-width="1.0"/>
<path d="M1173.8 418.7L1161.6 432.7" stroke="#000" stroke-width="1.0"/>
<path d="M1172.14 417.25L1159.94 431.25" stroke="#000" stroke-width="1.0"/>
<path d="M1175.46 420.15L1163.26 434.15" stroke="#000" stroke-width="1.0"/>
<path d="M1157.3 440.5L1160.7 449.2L1155.5 464.0L1146.8 469.3L1145.1 460.6L1149.4 446.6Z" stroke="#000" stroke-width="1.0" fill="none" stroke-linejoin="round" stroke-linecap="round"/>
<path d="M1155.73 442.52L1158.17 448.78" stroke="#000" stroke-width="1.0"/>
<path d="M1153.14 462.86L1146.87 466.68" stroke="#000" stroke-width="1.0"/>
<path d="M1147.81 459.29L1150.9 449.21" stroke="#000" stroke-width="1.0"/>
<path d="M1146.8 469.3L1145.1 460.6" stroke="#000" stroke-width="1.9" fill="none" stroke-linejoin="round" stroke-linecap="round"/>
<path d="M1145.1 460.6L1149.4 446.6" stroke="#000" stroke-width="1.9" fill="none" stroke-linejoin="round" stroke-linecap="round"/>
<path d="M1149.4 446.6L1157.3 440.5" stroke="#000" stroke-width="1.9" fill="none" stroke-linejoin="round" stroke-linecap="round"/>
<path d="M1161.6 432.7L1157.3 440.5" stroke="#000" stroke-width="1.0"/>
<path d="M1164.2 423.1L1149.4 419.2" stroke="#000" stroke-width="1.0"/>
<path d="M1149.40 419.20L1156.33 418.80L1154.19 420.46L1155.23 422.96Z" fill="#000"/>
<path d="M1166.9 468.4L1145.9 440.5" stroke="#ff1010" stroke-width="1.0"/>
<path d="M1145.90 440.50L1151.41 444.49L1148.83 444.39L1148.21 446.90Z" fill="#ff1010"/>
<path d="M1172.3999999999999 460.2L1172.6 444.2Q1174.3 441.7 1176.0 444.2L1176.2 460.2Z" fill="#d4d4d4" stroke="#9a9a9a" stroke-width="0.5"/>
<path d="M1174.3 443.7L1174.3 459.7" stroke="#f4f4f4" stroke-width="0.9"/>
<circle cx="1174.3" cy="456.7" r="1.1" fill="#777"/>
<path d="M1172.3 459.9L1176.3 459.9L1179.8999999999999 468.2L1175.8 470.2L1174.5 465.7L1173.3 470.7L1168.8 469.2Z" fill="#2e3234"/>
<circle cx="1170.3999999999999" cy="473.2" r="3.3" fill="#fff" stroke="#2e3234" stroke-width="1.7"/>
<circle cx="1178.7" cy="471.0" r="3.1" fill="#fff" stroke="#2e3234" stroke-width="1.7"/>
<path d="M1170.8 476.2L1167.1 479.9" stroke="#2e3234" stroke-width="1.8" stroke-linecap="round"/>
<path d="M1160.7 389.4L1160.7 399.0" stroke="#000" stroke-width="1.0"/>
<text x="1177.3" y="418.18" font-size="10.5" fill="#8c8c8c" text-anchor="middle" >Ph</text>
<path d="M1168.2 409.5L1170.7 410.7" stroke="#686868" stroke-width="0.8"/>
<text x="149.4" y="156.96" font-size="13.5" fill="#000"><tspan font-weight="bold">Int9</tspan> (-2.6)</text>
<text x="367.6" y="106.46" font-size="13.5" fill="#000"><tspan font-weight="bold">Int10</tspan> (-8.2)</text>
<text x="512" y="222.26" font-size="13.5" fill="#000"><tspan font-weight="bold">Int11</tspan> (-6.4)</text>
<text x="687.1" y="222.26" font-size="13.5" fill="#000"><tspan font-weight="bold">Int5</tspan> (-3.9)</text>
<text x="835.7" y="108.56" font-size="13.5" fill="#000"><tspan font-weight="bold">Int4</tspan> (-8.4)</text>
<text x="1037.5" y="155.76" font-size="13.5" fill="#000"><tspan font-weight="bold">Int3</tspan> (-1.5)</text>
<text x="1141.1" y="293.96" font-size="13.5" fill="#000"><tspan font-weight="bold">Int2</tspan> (1.7)</text>
<text x="1103.9" y="485.86" font-size="13.5" fill="#000"><tspan font-weight="bold">Int1</tspan> (6.8)</text>
<text x="979.5" y="607.56" font-size="13.5" fill="#000"><tspan font-weight="bold">Int0</tspan> (-5.5)</text>
<text x="691.4" y="587.46" font-size="13.5" fill="#000"><tspan font-weight="bold">Cplx1S</tspan> (-2.9)</text>
<text x="506.3" y="586.66" font-size="13.5" fill="#000"><tspan font-weight="bold">Cplx1R</tspan> (-1.7)</text>
<text x="313.1" y="610.06" font-size="13.5" fill="#000"><tspan font-weight="bold">Int6</tspan> (-4.0)</text>
<text x="120.6" y="487.66" font-size="13.5" fill="#000"><tspan font-weight="bold">Int7</tspan> (7.4)</text>
<text x="295.5" y="383.16" font-size="13.5" fill="#000"><tspan font-weight="bold">Cplx2S</tspan> (8.2)</text>
<text x="921.1" y="378.06" font-size="13.5" fill="#000"><tspan font-weight="bold">Cplx2R</tspan> (6.6)</text>
<text x="604.2" y="401.26" font-size="13.5" fill="#000"><tspan font-weight="bold">Cat0-P</tspan> (0.0)</text>
<text x="284.7" y="255.2" font-size="17.8" font-weight="bold" fill="#8080ff">CH channel<tspan fill="#000" font-weight="normal" font-style="italic" x="388.0">(R)</tspan><tspan fill="#000" font-style="italic">-product</tspan></text>
<text x="745.3" y="255.2" font-size="17.8" font-weight="bold" fill="#8080ff">CH channel<tspan fill="#000" font-weight="normal" font-style="italic" x="848.6">(S)</tspan><tspan fill="#000" font-style="italic">-product</tspan></text>
<text x="276.7" y="450.1" font-size="17.8" font-weight="bold" fill="#8080ff">IV channel<tspan fill="#000" font-weight="normal" font-style="italic" x="370.2">(R)</tspan><tspan fill="#000" font-style="italic">-product</tspan></text>
<text x="792.2" y="450.1" font-size="17.8" font-weight="bold" fill="#8080ff">IV channel<tspan fill="#000" font-weight="normal" font-style="italic" x="885.7">(S)</tspan><tspan fill="#000" font-style="italic">-product</tspan></text>
<text x="149.4" y="371.90" font-size="11.1" font-weight="normal" fill="#000" text-anchor="middle">Chirality inversion</text>
<text x="1132" y="370.60" font-size="11.1" font-weight="normal" fill="#000" text-anchor="middle">Chirality inversion</text>
<path d="M229.9 80.6Q262.7 65.2 295.5 57.3" stroke="#000" stroke-width="1.0" fill="none"/>
<path d="M295.50 57.30L288.80 61.07L290.10 58.60L287.81 56.99Z" fill="#000"/>
<text transform="translate(257.7 46.8) rotate(-17.6)" x="0" y="3.35" font-size="13.4" font-weight="bold" fill="#000" text-anchor="middle">migratory</text>
<text transform="translate(261.0 62.5) rotate(-18)" x="0" y="3.35" font-size="13.4" font-weight="bold" fill="#000" text-anchor="middle">insertion</text>
<path d="M443.1 69.2Q490.4 86.8 526.9 122.7" stroke="#000" stroke-width="1.0" fill="none"/>
<path d="M526.90 122.70L520.15 119.01L522.94 118.81L523.10 116.01Z" fill="#000"/>
<text transform="translate(502.7 75.6) rotate(35.2)" x="0" y="3.35" font-size="13.4" font-weight="bold" fill="#000" text-anchor="middle">reductive</text>
<text transform="translate(492.7 89.2) rotate(36.3)" x="0" y="3.35" font-size="13.4" font-weight="bold" fill="#000" text-anchor="middle">elimination</text>
<path d="M784.1 79.2Q752.5 100.0 721.7 122.4" stroke="#000" stroke-width="1.0" fill="none"/>
<path d="M721.70 122.40L726.45 116.35L726.19 119.14L728.92 119.75Z" fill="#000"/>
<text transform="translate(732.1 84.2) rotate(-36)" x="0" y="3.35" font-size="13.4" font-weight="bold" fill="#000" text-anchor="middle">reductive</text>
<text transform="translate(742.5 97.0) rotate(-37)" x="0" y="3.35" font-size="13.4" font-weight="bold" fill="#000" text-anchor="middle">elimination</text>
<path d="M991.2 68.2Q957 56.6 922.8 52.5" stroke="#000" stroke-width="1.0" fill="none"/>
<path d="M922.80 52.50L930.40 51.30L928.31 53.16L929.90 55.47Z" fill="#000"/>
<text transform="translate(966.3 37.8) rotate(15.3)" x="0" y="3.35" font-size="13.4" font-weight="bold" fill="#000" text-anchor="middle">migratory</text>
<text transform="translate(959.9 52.3) rotate(16)" x="0" y="3.35" font-size="13.4" font-weight="bold" fill="#000" text-anchor="middle">insertion</text>
<path d="M108.3 209.5Q123.6 175.9 146.9 147.5" stroke="#000" stroke-width="1.0" fill="none"/>
<path d="M146.90 147.50L143.83 154.55L143.38 151.79L140.58 151.89Z" fill="#000"/>
<text x="67.4" y="165.82" font-size="13.4" font-weight="bold" fill="#000" text-anchor="middle">Si-Cl</text>
<text x="67.4" y="182.02" font-size="13.4" font-weight="bold" fill="#000" text-anchor="middle">oxidative addition</text>
<path d="M237.5 297.6Q181 237.5 162.1 166.7" stroke="#000" stroke-width="1.0" fill="none"/>
<path d="M162.10 166.70L166.04 173.31L163.53 172.06L161.98 174.39Z" fill="#000"/>
<text x="246.6" y="213.82" font-size="13.4" font-weight="bold" fill="#000" text-anchor="middle">Si-H</text>
<text x="246.6" y="229.42" font-size="13.4" font-weight="bold" fill="#000" text-anchor="middle">oxidative addition</text>
<path d="M90.4 356.5Q88.5 327 87.5 299.1" stroke="#000" stroke-width="1.0" fill="none"/>
<path d="M87.50 299.10L89.86 306.42L87.70 304.65L85.67 306.57Z" fill="#000"/>
<path d="M238.8 553.2Q195.1 529.1 157.5 494.8" stroke="#000" stroke-width="1.0" fill="none"/>
<path d="M157.50 494.80L164.38 498.24L161.60 498.54L161.55 501.34Z" fill="#000"/>
<text transform="translate(209.4 508.5) rotate(35.5)" x="0" y="3.35" font-size="13.4" font-weight="bold" fill="#000" text-anchor="middle">HCl</text>
<text transform="translate(198.5 521.8) rotate(35)" x="0" y="3.35" font-size="13.4" font-weight="bold" fill="#000" text-anchor="middle">abstraction</text>
<path d="M471.2 548.5Q430.4 569.4 389.5 575.1" stroke="#000" stroke-width="1.0" fill="none"/>
<path d="M389.50 575.10L396.54 572.00L395.00 574.33L397.12 576.16Z" fill="#000"/>
<text x="445" y="577.42" font-size="13.4" font-weight="bold" fill="#000" text-anchor="middle">Si-H</text>
<text x="445" y="593.22" font-size="13.4" font-weight="bold" fill="#000" text-anchor="middle">oxidative addition</text>
<path d="M537.2 363.8Q449 397 361 369.2" stroke="#000" stroke-width="1.0" fill="none"/>
<path d="M361.00 369.20L368.69 369.43L366.29 370.87L367.42 373.43Z" fill="#000"/>
<path d="M462.7 369C462 378 456 382 450.4 381.9C444.5 381.8 440.3 376 439.5 369.5" stroke="#000" stroke-width="1.0" fill="none" />
<path d="M439.30 367.00L441.67 371.95L439.78 370.87L438.20 372.37Z" fill="#000"/>
<text x="437.4" y="364.18" font-size="13" font-weight="bold" fill="#000" text-anchor="middle">cod</text>
<text x="452.2" y="365.0" font-size="13" fill="#000"><tspan font-style="italic">(S)</tspan>-<tspan font-weight="bold">1a</tspan></text>
<path d="M709.9 362.7Q788 383.6 866.3 363.3" stroke="#000" stroke-width="1.0" fill="none"/>
<path d="M866.30 363.30L859.66 367.19L860.93 364.69L858.61 363.12Z" fill="#000"/>
<path d="M767.5 358.5C767 367 772 372.5 778.9 372.8C784.5 373 788.5 369.5 790.2 365.8" stroke="#000" stroke-width="1.0" fill="none" />
<path d="M791.20 363.80L790.30 369.21L789.37 367.24L787.21 367.57Z" fill="#000"/>
<text x="741.0" y="357.4" font-size="13" fill="#000"><tspan font-style="italic">(R)</tspan>-<tspan font-weight="bold">1a</tspan></text>
<text x="801.3" y="363.18" font-size="13" font-weight="bold" fill="#000" text-anchor="middle">cod</text>
<path d="M590.4 214.3Q610.7 258 612.2 301.2" stroke="#000" stroke-width="1.0" fill="none"/>
<path d="M612.20 301.20L609.84 293.88L612.01 295.65L614.04 293.73Z" fill="#000"/>
<path d="M656.9 216.6Q638.2 259.2 637.9 301.8" stroke="#000" stroke-width="1.0" fill="none"/>
<path d="M637.90 301.80L635.85 294.39L637.94 296.25L640.05 294.41Z" fill="#000"/>
<path d="M591.3 249.9C600 248 606 253 606 260C606 268 600.5 272.6 595 272.7" stroke="#000" stroke-width="1.0" fill="none" />
<path d="M592.40 272.70L597.60 270.95L596.30 272.70L597.60 274.45Z" fill="#000"/>
<path d="M660.1 255.6C650 251 642 256 642.5 264C643 270.5 645.5 273.5 648.5 275.6" stroke="#000" stroke-width="1.0" fill="none" />
<path d="M650.30 276.80L645.04 275.25L647.11 274.56L647.04 272.38Z" fill="#000"/>
<text x="577.1" y="254.58" font-size="13" font-weight="bold" fill="#000" text-anchor="middle">cod</text>
<text x="554.6" y="277.8" font-size="13" fill="#000"><tspan font-style="italic">(R)</tspan>-<tspan font-weight="bold">2a</tspan></text>
<text x="677.2" y="259.68" font-size="13" font-weight="bold" fill="#000" text-anchor="middle">cod</text>
<text x="652.6" y="282.3" font-size="13" fill="#000"><tspan font-style="italic">(S)</tspan>-<tspan font-weight="bold">2a</tspan></text>
<path d="M595.7 408.3Q584.2 437 566.7 462.5" stroke="#000" stroke-width="1.0" fill="none"/>
<path d="M566.70 462.50L569.16 455.21L569.84 457.92L572.62 457.59Z" fill="#000"/>
<path d="M655 409.3Q674.9 455.5 707.9 493.8" stroke="#000" stroke-width="1.0" fill="none"/>
<path d="M707.90 493.80L701.48 489.56L704.28 489.60L704.66 486.82Z" fill="#000"/>
<path d="M586.6 443.5C578 444 573 450 575 457C576.3 461.5 578.5 464 581.2 465.5" stroke="#000" stroke-width="1.0" fill="none" />
<path d="M583.20 466.60L577.82 465.52L579.82 464.65L579.57 462.48Z" fill="#000"/>
<path d="M663.6 444C672 444 677 450 676.5 457C676 463 671.5 467 667.5 467.2" stroke="#000" stroke-width="1.0" fill="none" />
<path d="M665.10 467.20L670.30 465.45L669.00 467.20L670.30 468.95Z" fill="#000"/>
<text x="587.4" y="446.2" font-size="13" fill="#000"><tspan font-style="italic">(R)</tspan>-<tspan font-weight="bold">1a</tspan><tspan font-style="italic" dx="1">(S)</tspan>-<tspan font-weight="bold">1a</tspan></text>
<text x="595.2" y="473.78" font-size="13" font-weight="bold" fill="#000" text-anchor="middle">cod</text>
<text x="652.2" y="473.78" font-size="13" font-weight="bold" fill="#000" text-anchor="middle">cod</text>
<path d="M987 294.1Q1045 231.7 1051.2 158.5" stroke="#000" stroke-width="1.0" fill="none"/>
<path d="M1051.20 158.50L1052.67 166.05L1050.73 164.03L1048.48 165.70Z" fill="#000"/>
<text x="975" y="213.32" font-size="13.4" font-weight="bold" fill="#000" text-anchor="middle">Si-H</text>
<text x="975" y="229.52" font-size="13.4" font-weight="bold" fill="#000" text-anchor="middle">oxidative addition</text>
<path d="M1135.7 198.7Q1124.6 162.5 1093.9 140.2" stroke="#000" stroke-width="1.0" fill="none"/>
<path d="M1093.90 140.20L1101.12 142.85L1098.39 143.46L1098.65 146.25Z" fill="#000"/>
<text x="1174.8" y="154.42" font-size="13.4" font-weight="bold" fill="#000" text-anchor="middle">Si-Cl</text>
<text x="1174.8" y="170.22" font-size="13.4" font-weight="bold" fill="#000" text-anchor="middle">oxidative addition</text>
<path d="M1160.5 350Q1161.5 324 1162 298" stroke="#000" stroke-width="1.0" fill="none"/>
<path d="M1162.00 298.00L1163.96 305.44L1161.89 303.55L1159.76 305.36Z" fill="#000"/>
<path d="M1046.6 531.8Q1074 513 1097 489" stroke="#000" stroke-width="1.0" fill="none"/>
<path d="M1097.00 489.00L1093.40 495.80L1093.16 493.01L1090.36 492.89Z" fill="#000"/>
<text transform="translate(1057.1 494.7) rotate(-35)" x="0" y="3.35" font-size="13.4" font-weight="bold" fill="#000" text-anchor="middle">HCl</text>
<text transform="translate(1069.0 507.6) rotate(-37.8)" x="0" y="3.35" font-size="13.4" font-weight="bold" fill="#000" text-anchor="middle">abstraction</text>
<path d="M818.4 564.4Q866.6 579 915.2 576.7" stroke="#000" stroke-width="1.0" fill="none"/>
<path d="M915.20 576.70L907.91 579.15L909.66 576.96L907.71 574.95Z" fill="#000"/>
<text x="864.3" y="588.42" font-size="13.4" font-weight="bold" fill="#000" text-anchor="middle">Si-H</text>
<text x="863.7" y="604.72" font-size="13.4" font-weight="bold" fill="#000" text-anchor="middle">oxidative addition</text>
<path d="M1245 613.4L1250 613.4" stroke="#6a6a6a" stroke-width="1.1"/>
<path d="M1243.9 613.4L1247.4 610.8L1246.5 613.4L1247.4 616.0Z" fill="#6a6a6a"/>
</svg>
</body></html>
